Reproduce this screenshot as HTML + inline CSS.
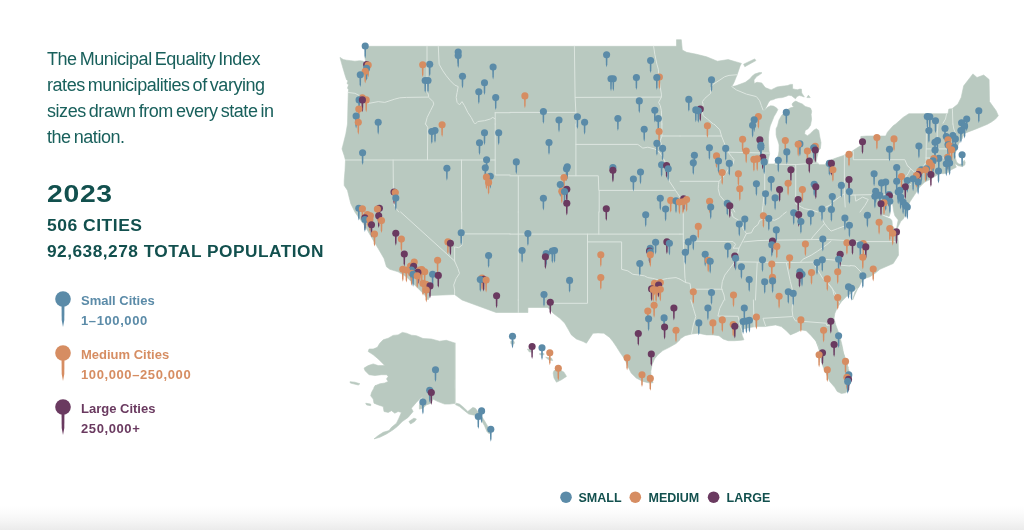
<!DOCTYPE html><html lang="en"><head><meta charset="utf-8"><title>Municipal Equality Index 2023</title><style>
html,body{margin:0;padding:0;background:#fff;}
body{width:1024px;height:530px;position:relative;overflow:hidden;font-family:"Liberation Sans",sans-serif;color:#12504e;}
.grad{position:absolute;left:0;top:506px;width:1024px;height:24px;background:linear-gradient(#ffffff 0%,#fbfbfb 30%,#f5f5f5 62%,#ebebeb 100%);}
.intro{position:absolute;left:47px;top:46.2px;width:300px;font-size:18px;line-height:26px;letter-spacing:-0.45px;word-spacing:-1.5px;color:#19605c;margin:0;}
.year{position:absolute;left:47px;top:179.3px;font-size:24px;font-weight:bold;line-height:30px;margin:0;letter-spacing:0.6px;transform:scaleX(1.18);transform-origin:0 0;}
.stat{position:absolute;left:47px;font-size:16px;font-weight:bold;line-height:20px;margin:0;white-space:nowrap;letter-spacing:0.45px;transform:scaleX(1.095);transform-origin:0 0;}
.leg{position:absolute;left:81px;font-size:13px;font-weight:bold;line-height:19.5px;white-space:nowrap;}
.leg div{margin:0}.leg .n{letter-spacing:0.6px}
.bl{position:absolute;top:491px;font-size:12.5px;font-weight:bold;line-height:15px;white-space:nowrap;color:#12504e;}
svg{position:absolute;left:0;top:0;}
</style></head><body>
<div class="grad"></div>
<p class="intro">The Municipal Equality Index<br>rates municipalities of varying<br>sizes drawn from every state in<br>the nation.</p>
<p class="year">2023</p>
<p class="stat" style="top:216px">506 CITIES</p>
<p class="stat" style="top:242.1px;transform:scaleX(1.08)">92,638,278 TOTAL POPULATION</p>
<div class="leg" style="top:291px;color:#5b8ba8"><div>Small Cities</div><div class="n">1–100,000</div></div>
<div class="leg" style="top:345px;color:#d68d62"><div>Medium Cities</div><div class="n">100,000–250,000</div></div>
<div class="leg" style="top:399px;color:#6a3a60"><div>Large Cities</div><div class="n">250,000+</div></div>
<div class="bl" style="left:578.5px">SMALL</div><div class="bl" style="left:648.5px">MEDIUM</div><div class="bl" style="left:726.5px">LARGE</div>
<svg width="1024" height="530" viewBox="0 0 1024 530">
<path d="M365.7,46.3 L510,46.3 L676.5,46.3 L676.5,39.7 L681.3,39.7 L682.3,50.1 L686.6,52.3 L696.6,54.3 L706.6,56.8 L717.4,61.2 L728.2,59.6 L741.4,63.4 L740.1,65.9 L737.3,74.2 L734,82.5 L731.8,86.6 L735.9,85.8 L740.6,84 L745.3,82.3 L750,78.8 L751.8,76.4 L754.7,74.1 L759.4,72.5 L762,72.8 L759.8,74.6 L756.6,76.6 L754,79.9 L754.2,83.5 L757,82.3 L761.7,82.9 L765.2,87.6 L771.1,89.9 L777,87 L781.5,86.3 L784.5,85.9 L787.6,85.6 L790.5,84.4 L792.6,84.4 L792.6,88.8 L795.2,89.4 L797.6,89.7 L799.9,89.1 L801.4,89.1 L801.7,92.9 L803.4,95.5 L804.3,97 L801.7,96.1 L799.3,95.5 L797,96.4 L795.5,98.7 L793.8,97.6 L791.7,95.8 L788.8,95.2 L785.9,96.4 L782.3,97.6 L778.1,97.9 L775.8,98.4 L773.4,99.6 L770.5,100.3 L768.7,102 L767,105.5 L765.2,109 L763.8,111.3 L767.6,107.2 L770.5,105.8 L773.4,106.1 L776.4,107.8 L777.8,109.6 L776.4,112.5 L774,116.6 L772.6,120.1 L770.2,125.9 L769,131.7 L768.5,137.6 L768.6,143.4 L769,151 L769.6,153.8 L768.3,159.6 L767.9,164 L774.8,164 L777.5,156.7 L778.4,155 L779,150.9 L779.1,145 L778.7,143.4 L777.8,140.5 L776.7,137.6 L776.1,134.6 L776.1,128.8 L777.5,125.9 L779,120 L779.9,118.4 L781.6,115.4 L784.5,112.5 L788.1,109.2 L790,108.1 L794.1,106.7 L792.6,105.8 L792,104 L793.5,102.3 L795.8,101.1 L798.7,102.6 L802.3,104 L805.2,106.4 L810.5,108.1 L811.6,111 L811.6,111.7 L811.1,114.6 L811.6,119.3 L810.5,125.2 L808.1,128.7 L805.2,130.4 L804.6,133.9 L807.5,135.7 L810.5,133.4 L813.4,130.4 L816.3,128.7 L818.7,130.4 L819.8,136.9 L821,142.7 L820.4,148.6 L818.6,150.6 L817,157.2 L816.2,162.2 L819.5,164.7 L824.5,164.7 L829.4,160.5 L836.1,158 L843.5,155.5 L850,153.1 L850,153.1 L854.2,149.7 L860.8,145.6 L860.8,136.5 L866.6,136 L885.7,136 L887.4,132.3 L893.2,125.7 L895.7,124 L895.7,124 L903.1,117.4 L908.9,113.7 L948,113.7 L948.8,109.1 L952.1,108.7 L957.9,104.1 L961.2,97.4 L963.7,85.8 L972.9,73.9 L977,77.5 L983.7,75 L989.1,79.5 L989.5,101.6 L996.1,110.7 L998.3,115.7 L995.5,119.1 L991.4,122 L987.5,124.2 L983.1,126.1 L974.8,129.4 L968.2,131.9 L964,133.7 L962.3,138.6 L959.8,141.7 L958.1,145 L957.3,148.3 L954.8,154.1 L955.6,158.3 L956.5,162 L958.9,164.1 L962.3,164.1 L963.1,161.6 L964.3,160.3 L965.2,162.4 L964.8,164.9 L962.3,166.6 L958.1,165.7 L954.8,163.2 L956.3,167.2 L951.3,169.7 L948,172.5 L943,173.8 L939.7,173 L936.3,175.5 L931.4,178.8 L924.7,182.1 L919.7,187.1 L916.4,192.1 L913.1,197.1 L909.8,202 L908.5,206 L906.5,213.2 L903.2,219.1 L900.7,221.6 L898.2,226.6 L897,228.7 L896.6,228.2 L898.2,219.9 L894.9,215.8 L893.7,211.6 L892.8,205 L892,198 L891,196.5 L890.5,205 L890.3,213.3 L889.1,216.6 L882.4,214.5 L882.4,215.5 L890.7,219.1 L892,220.8 L892.4,225.7 L894.9,229 L897.4,232.4 L898.2,241.3 L898.5,255.2 L893.2,263.5 L879.9,269.3 L874.9,273.4 L869.9,276.8 L864.9,278.4 L861.6,281.7 L859.1,286.7 L855,291.7 L852.5,300 L861.4,280 L858.9,286.6 L853.1,291.6 L846.5,296.6 L841.5,301.6 L837.4,307.4 L834.9,313.2 L834,318.2 L835.7,324.8 L838.2,331.5 L840.7,339.8 L842.3,346.4 L843.5,353.1 L845.7,359.7 L848.2,368 L838.9,340 L841.4,348.3 L843.8,354.9 L846.3,363.2 L848.8,369.9 L850.5,376.5 L849.7,383.2 L848,390.6 L845.5,392.8 L841.4,393.5 L837.2,391.5 L834.7,387.3 L829.7,381.5 L825.6,371.5 L823.1,363.2 L820.6,354.9 L818.9,346.6 L815.6,340 L835.2,386.3 L830.3,381.4 L826.9,374.7 L823.6,368.1 L821.1,361.4 L820.3,354.8 L818.6,348.2 L816.2,341.5 L811.2,335.7 L806.2,330.7 L801.2,329.9 L796.2,332.4 L790.4,334.9 L786.3,330.7 L781.3,326.6 L775.5,324.9 L770.5,325.7 L764.7,326.6 L756.4,326.6 L749.7,327.4 L743.1,329.1 L741.4,331.5 L742.3,335.7 L743.9,339.8 L741.4,340.2 L734.8,340.7 L728.2,340.7 L723.2,339 L719,335.7 L713.2,334.9 L706.6,334.9 L698.3,333.2 L691.6,334 L685,335.7 L680,339 L680,339.8 L676,343.5 L669.4,347.3 L662.8,350.6 L657.8,354.8 L654.5,358.9 L652,364.8 L650.8,371.4 L651.1,378 L653.1,382.7 L649.5,383 L642.8,381.4 L636.2,378 L631.2,373.1 L627.9,366.4 L624.6,358.9 L620.4,353.1 L616.3,346.5 L612.9,341.5 L609.6,337.4 L603.8,333.2 L598,332.9 L593,333.2 L589.7,338.2 L586.4,343.2 L583.1,341.5 L576.4,339 L571.4,334.9 L568.1,329.1 L564.8,323.2 L559.8,318.3 L553.2,313.3 L549.8,309.1 L547.4,307.5 L527.9,307.5 L527.9,312.5 L510,312.5 L510,312.5 L496.1,312.5 L462,300 L462,300 L454.6,294.5 L430.5,295.5 L428,300 L424.7,295 L419.7,290 L413.1,283.4 L406.4,276.8 L398.1,271.8 L389.8,269.3 L386.5,266.8 L384,258.5 L378.2,248.5 L373.2,240.2 L367.4,230.3 L363.2,223.6 L358.3,217 L354.9,212 L354.9,212 L353.3,208.7 L350.8,203.7 L349.1,197.1 L347.5,190.4 L344.2,185.4 L344.2,180.5 L345,170.5 L345.5,160.2 L344.2,155.5 L342,148.9 L343.7,142.3 L345.8,134 L347.5,124 L347.5,124 L348,102.4 L348.3,92.3 L348.6,89.8 L347.5,88.1 L348.6,84.8 L347,83.5 L348,80.7 L346.6,79.8 L345,74.9 L342.5,66.6 L340,57.4 L343.3,59.6 L346.6,60.2 L350.8,60.7 L354.9,61.2 L359.9,60.7 L363.2,61.2 L364.1,61.9 L363.4,68.2 L362.2,73.2 L361.3,77.5 L362.6,77.8 L363.6,73.2 L364.9,67.9 L365.6,61.6 L364.9,57.6Z" fill="#b9c9c0" stroke="#b9c9c0" stroke-width="0.6" stroke-linejoin="round"/>
<path d="M455.4,343.2 L446.3,340.3 L439.6,341.2 L431.3,339 L423,338.5 L416.4,335.7 L411.4,335.2 L406.4,333.2 L402.3,332.4 L398.1,334.9 L393.1,335.4 L388.2,338.2 L383.2,339.8 L379.8,343.2 L377.4,347.3 L373.2,349 L369.1,349 L368.2,351.5 L373.2,354.8 L378.2,358.9 L383.2,363.9 L384.8,365.6 L378.2,365.6 L373.2,363.9 L368.2,365.6 L364.1,368.1 L364.9,370.6 L369.1,374.7 L374.9,375.5 L381.5,374.7 L386.5,374.7 L388.2,376.4 L386.5,378.9 L388.2,381.4 L384.8,383 L379.8,383.8 L375.7,385.5 L374,388 L375.7,385 L371.5,392.5 L370.7,395.8 L373.2,399.1 L374,403.2 L378.2,404.9 L383.2,406.6 L384,411.5 L388.2,412.4 L391.5,410.7 L394.8,413.2 L398.1,411.5 L401.4,412.4 L398.9,418.2 L396.5,423.2 L391.5,427.3 L389,430.6 L383.2,432.3 L378.2,435.6 L374,438.9 L379.8,437.3 L386.5,434 L393.1,429.8 L397.3,426.5 L402.3,421.5 L408.1,417.4 L413.1,411.5 L411.4,408.2 L416.4,402.4 L419.7,399.1 L423,396.6 L420.7,400.8 L419.4,404.9 L419.4,409.1 L423,408.2 L426.3,404.9 L431.3,403.2 L433,399.1 L438,401.6 L444.6,404.1 L449.6,404.1 L456.2,403.2 L459.5,404.1 L463.7,407.4 L467.8,411.5 L472.8,407.4 L475.3,408.2 L477.8,411.5 L481.1,415.7 L484.5,420.7 L487.8,426.5 L490.3,431.5 L489.4,434 L486.9,431.5 L484.5,425.7 L481.1,419.8 L477.8,415.7 L472.8,414.9 L468.7,414 L464.5,410.7 L459.5,406.6 L455.4,404.6Z" fill="#b9c9c0" stroke="#b9c9c0" stroke-width="0.6" stroke-linejoin="round"/>
<path d="M806.9,97.6 L808.4,95.2 L810.2,97.6Z" fill="#b9c9c0" stroke="#b9c9c0" stroke-width="0.6" stroke-linejoin="round"/>
<path d="M350,381.7 L354.9,382.2 L359.9,383.8 L358.3,385 L353.3,383.8 L350.3,383Z" fill="#b9c9c0" stroke="#b9c9c0" stroke-width="0.6" stroke-linejoin="round"/>
<path d="M408.9,421.5 L413.9,418.2 L416.4,419 L414.7,421.5 L410.6,424Z" fill="#b9c9c0" stroke="#b9c9c0" stroke-width="0.6" stroke-linejoin="round"/>
<path d="M365.7,403.2 L370.7,404.1 L370.7,405.7 L366.6,404.9Z" fill="#b9c9c0" stroke="#b9c9c0" stroke-width="0.6" stroke-linejoin="round"/>
<path d="M743.6,64.2 L754.7,58.9 L755.9,60.6 L744.8,66.7Z" fill="#b9c9c0" stroke="#b9c9c0" stroke-width="0.6" stroke-linejoin="round"/>
<path d="M510.8,341.2 L513.7,340.7 L514.5,343.2 L512.5,344.8 L510.8,343.5Z" fill="#b9c9c0" stroke="#b9c9c0" stroke-width="0.6" stroke-linejoin="round"/>
<path d="M527.4,349 L531.6,349.8 L532.7,352.3 L529.1,351.8Z" fill="#b9c9c0" stroke="#b9c9c0" stroke-width="0.6" stroke-linejoin="round"/>
<path d="M539.6,353.5 L544,353.6 L544,354.8 L539.9,354.8Z" fill="#b9c9c0" stroke="#b9c9c0" stroke-width="0.6" stroke-linejoin="round"/>
<path d="M545.7,357.3 L551.5,358.1 L552.7,360.6 L549,360.1Z" fill="#b9c9c0" stroke="#b9c9c0" stroke-width="0.6" stroke-linejoin="round"/>
<path d="M554,370.6 L559.8,369.7 L564,372.2 L566.5,376.4 L561.5,379.7 L556.5,382.2 L554,378 L553.2,373.1Z" fill="#b9c9c0" stroke="#b9c9c0" stroke-width="0.6" stroke-linejoin="round"/>
<path d="M427,46.3 L427,92.5 L428,93.3 L428.8,97.4 L433,101.6 L433.8,104.1 L430.5,110.7 L427.2,117.4 L425.5,124M438.3,46.3 L439.1,64.2 L442.9,70.9 L446.3,75.8 L450.4,80.8 L454.6,85 L458.2,86.6 L457.1,92.5 L456.2,97.4 L457.1,102.4 L459.5,104.9 L462,101.6 L464.5,105.7 L467.8,112.4 L471.2,117.4 L473.7,122.3 L475.3,124 L477.8,121.5 L484.5,120.7 L490.3,119 L492.8,117.4 L495.2,119M348.3,92.5 L354.9,93.3 L359.9,95.8 L364.9,102.4 L369.9,103.2 L378.2,101.6 L384.8,102.4 L394.8,99.1 L399.8,97.8 L406.4,97.4 L428,97.1M574.4,46.3 L575.1,97.4 L575.9,112.4 L576.4,124M575.3,97.4 L661.1,97.1M495.2,112.7 L510,112.7M510,112.4 L575.9,112.4M653.6,46.3 L654.8,54.3 L656.9,64.2 L658.3,69.2 L659.1,79.2 L660.3,87.5 L661.4,94.1 L661.4,97.1 L658.6,102.4 L660.3,105.7 L661.4,110.7 L661.9,124M737.3,74.7 L729,75.4 L724.8,76.7 L719.8,80 L713.2,84.2 L710.7,87.5 L710.7,93.3 L704.9,98.3 L702.4,101.6 L703.2,104.9 L701.6,109.1 L703.2,115.7 L707.4,119 L713.2,124M731.8,86.6 L736.5,90 L746.4,94.1 L756.4,96.6 L759.7,100.8 L761.4,105.7 L763,109.9M946.6,113.7 L945.5,119 L943,123.2M952.4,109.1 L952.9,124M425.5,124 L427.7,127.3 L427.5,159.7M345.5,160 L495.2,160M393.1,160 L393.5,203.7 L397.3,210.3 L398.9,212M461.5,160 L461.5,212M495.2,112.7 L495.2,124M495.2,124 L495.2,175 L510,175M575.9,124 L575.9,175.8M575.9,144.4 L637.8,144.4 L642.8,148.1 L647.8,147.2 L654.5,148.9 L659.4,152.2 L662.8,157.2 L665.2,162.2 L667.7,173.8 L669.4,181.3 L674.4,188.8 L677.7,193.7 L680,197.1M661.9,124 L661.9,136 L680,136M661.9,136 L660.3,140.6 L661.9,147.2 L662.8,153.1M510,175.8 L598.3,175.8 L598.8,190.4 L674.4,190.4M518.3,175.8 L518.3,212M599.2,190.4 L599.2,212M680,136 L721.5,136M714,124 L719.8,129.8 L721.5,136 L724,142.3 L728.2,152.2 L731.5,156.4 L734,159.7 L733.1,163.8 L729.8,167.2 L726.5,172.2 L723.2,177.1 L719,181.3 L718.5,184.6 L718.2,188.8 L719.8,195.4 L724,200.4 L728.2,205.4 L733.1,208.7 L734.8,212M728.2,152.2 L769.7,153.1M680,181.3 L719,181.3M764.7,163.8 L764.7,190.4 L763.8,197.1 L763,205.4 L762.2,212M795.7,164.7 L795.7,203.7 L801.2,207 L804.5,208.7 L812.8,210.3 L817.8,212M775.1,164.2 L796.2,164.5 L817.8,163M844.4,154.7 L844.4,193.7 L839.4,197.1 L832.8,202 L829.4,205.4 L824.5,207.8 L821.1,212M853.3,151.4 L853.3,159.7 L904.8,159.7 L907.3,165.5 L910.6,168.8 L908.1,173.8 L905.6,177.1 L907.3,181.3 L910.6,184.6M844.4,193.7 L845.2,207M850,195.1 L898.2,194.1M855,195.1 L855.8,201.2 L862.5,197.1 L868.3,199.5 L864.9,205.4 L860,212M926.7,124 L926.4,134 L926,162.2 L923.1,167.2 L914.8,172.2M907.3,165.5 L914.8,172.5M926.4,148.9 L946.3,148.9M925.9,158 L944.6,158M938,124 L937.2,134 L938,148.9M952.9,124 L953.8,129 L956.3,135.6M944.6,158 L945,167.2M946.3,148.9 L952.9,148.9 L954.6,145.6M400.6,212 L454.6,261 L457.9,268.5 L459.5,273.4 L456.2,278.4 L453.7,285.1 L454.6,290 L454.6,294.5M461.7,212 L461.7,233.9 L462,245.2 L458.7,247.7 L454.6,246.9 L454.6,261M461.7,233.9 L510,233.9M510,234.1 L680,234.1M518.3,212 L518.3,300M598.8,212 L598.8,234.1M587.5,234.1 L587.5,300M587.5,241.9 L621.6,241.9 L621.6,269.3 L627.9,270.9 L632.9,274.3 L639.5,275.1 L644.5,275.9 L647.8,277.6 L652.8,278.4 L659.4,280.1 L667.7,278.4 L676,277.6 L680,279.2M680,234.1 L683.3,234.1M683.3,241.1 L733.1,241.6 L735.6,244.4 L733.1,248.2 L738.9,248.2M731.5,212 L733.1,217 L741.4,222 L743.1,228.6 L746.4,233.6 L743.9,238.6 L741.4,243.5 L738.9,248.2 L737.3,255.2 L734.8,261.8 L729.8,268.5 L724.8,275.1 L722.3,281.7 L721.5,288.4 L724,295 L724.8,300M683.3,212 L683.3,241.1 L684.2,261.8 L685,278.4 L685.8,282.6 L690,283.4 L690.8,289.2 L722.3,289.2M680,279.2 L685.8,282.6M743.9,241.9 L758,240.6 L769.7,240.2 L796.2,239.9 L824.5,239.4 L850,240.6M736.5,261.8 L786.3,262.6 L812.8,262.1 L817.8,260.2 L824.5,259.3 L836.1,260.2 L839.4,265.1 L850,266M757.2,262.6 L755.5,300M786.3,262.6 L790.4,281.7 L792.9,291.7 L792.9,300M831.1,241.1 L826.1,245.2 L817.8,251 L811.2,255.2 L802.9,259.3 L800.4,262.3M812.8,262.6 L817.8,270.1 L822.8,278.4 L829.4,285.1 L834.4,291.7 L837.7,296.7 L839.4,300M746.4,233.6 L751.4,232.8 L753.9,227.8 L758,224.5 L759.7,220.3 L766.3,218.6 L774.6,220.3 L779.6,217.8 L782.9,214.5 L786.3,212M811.2,239.4 L812.8,236.9 L824.5,223.6 L827.8,227.8 L831.1,231.1 L837.7,228.6 L844.4,226.1 L850,222M824.5,223.6 L821.1,217 L822.8,212M850,241.6 L897.3,241.6M850,265.5 L855,266 L861.6,272.6M518.3,300 L518.3,312.5M551.5,303.3 L587.5,303.3 L587.5,300M690.8,300 L693.3,308.3 L695.8,316.6 L693.3,324.9 L691.6,334M724,300 L719.8,308.3 L717.9,316.1 L738.1,316.3 L739.8,324.9 L742.3,331.5M753.4,300 L753.9,318.3 L754.2,326.6M765.5,325.7 L763,318.3 L792.1,316.6M792.9,300 L792.1,310 L792.9,316.6 L795.4,320.8 L826.1,323.2 L826.9,325.7 L829.4,324.9 L834.4,320.8M828.2,283.3 L832.4,288.3 L834,294.9 L837.4,298.3 L839.8,303.2M455.4,343.2 L455.4,388M455.4,380 L455.4,404.1" fill="none" stroke="#dde6e0" stroke-width="1" stroke-linejoin="round" stroke-linecap="round"/>
<g fill="#5b8ba8"><circle cx="63" cy="299" r="7.8"/><path d="M61.5,299 L64.5,299 L64.3,320 L63,327 L61.7,320Z"/></g>
<g fill="#d68d62"><circle cx="63" cy="353" r="7.8"/><path d="M61.5,353 L64.5,353 L64.3,374 L63,381 L61.7,374Z"/></g>
<g fill="#6a3a60"><circle cx="63" cy="407" r="7.8"/><path d="M61.5,407 L64.5,407 L64.3,428 L63,435 L61.7,428Z"/></g>
<circle cx="566" cy="497.2" r="5.8" fill="#5b8ba8"/>
<circle cx="635.3" cy="497.2" r="5.8" fill="#d68d62"/>
<circle cx="713.6" cy="497.2" r="5.8" fill="#6a3a60"/>
<g fill="#5b8ba8"><path d="M364.3,46 L366.1,46 L365.9,55.8 L365.2,58.4 L364.5,55.8Z"/><circle cx="365.2" cy="46" r="3.56"/></g>
<g fill="#5b8ba8"><path d="M457.3,52.1 L459.1,52.1 L458.9,61.9 L458.2,64.5 L457.5,61.9Z"/><circle cx="458.2" cy="52.1" r="3.56"/></g>
<g fill="#5b8ba8"><path d="M605.7,54.8 L607.5,54.8 L607.3,64.6 L606.6,67.2 L605.9,64.6Z"/><circle cx="606.6" cy="54.8" r="3.56"/></g>
<g fill="#5b8ba8"><path d="M457.3,55.6 L459.1,55.6 L458.9,65.4 L458.2,68 L457.5,65.4Z"/><circle cx="458.2" cy="55.6" r="3.56"/></g>
<g fill="#5b8ba8"><path d="M649.7,60.6 L651.5,60.6 L651.3,70.4 L650.6,73 L649.9,70.4Z"/><circle cx="650.6" cy="60.6" r="3.56"/></g>
<g fill="#5b8ba8"><path d="M428.8,64.2 L430.6,64.2 L430.4,74 L429.7,76.6 L429,74Z"/><circle cx="429.7" cy="64.2" r="3.56"/></g>
<g fill="#6a3a60"><path d="M365.7,64.6 L367.5,64.6 L367.3,74.4 L366.6,77 L365.9,74.4Z"/><circle cx="366.6" cy="64.6" r="3.56"/></g>
<g fill="#d68d62"><path d="M421.8,64.7 L423.6,64.7 L423.4,74.5 L422.7,77.1 L422,74.5Z"/><circle cx="422.7" cy="64.7" r="3.56"/></g>
<g fill="#d68d62"><path d="M367.3,65.1 L369.1,65.1 L368.9,74.9 L368.2,77.5 L367.5,74.9Z"/><circle cx="368.2" cy="65.1" r="3.56"/></g>
<g fill="#5b8ba8"><path d="M492.2,67 L494,67 L493.8,76.8 L493.1,79.4 L492.4,76.8Z"/><circle cx="493.1" cy="67" r="3.56"/></g>
<g fill="#5b8ba8"><path d="M365.7,68.4 L367.5,68.4 L367.3,78.2 L366.6,80.8 L365.9,78.2Z"/><circle cx="366.6" cy="68.4" r="3.56"/></g>
<g fill="#d68d62"><path d="M364.3,71.2 L366.1,71.2 L365.9,81 L365.2,83.6 L364.5,81Z"/><circle cx="365.2" cy="71.2" r="3.56"/></g>
<g fill="#5b8ba8"><path d="M359.4,74.7 L361.2,74.7 L361,84.5 L360.3,87.1 L359.6,84.5Z"/><circle cx="360.3" cy="74.7" r="3.56"/></g>
<g fill="#5b8ba8"><path d="M461.6,76.2 L463.4,76.2 L463.2,86 L462.5,88.6 L461.8,86Z"/><circle cx="462.5" cy="76.2" r="3.56"/></g>
<g fill="#d68d62"><path d="M658.5,77 L660.3,77 L660.1,86.8 L659.4,89.4 L658.7,86.8Z"/><circle cx="659.4" cy="77" r="3.56"/></g>
<g fill="#5b8ba8"><path d="M635.5,77.5 L637.3,77.5 L637.1,87.3 L636.4,89.9 L635.7,87.3Z"/><circle cx="636.4" cy="77.5" r="3.56"/></g>
<g fill="#5b8ba8"><path d="M655.9,77.5 L657.7,77.5 L657.5,87.3 L656.8,89.9 L656.1,87.3Z"/><circle cx="656.8" cy="77.5" r="3.56"/></g>
<g fill="#5b8ba8"><path d="M610.1,78.8 L611.9,78.8 L611.7,88.6 L611,91.2 L610.3,88.6Z"/><circle cx="611" cy="78.8" r="3.56"/></g>
<g fill="#5b8ba8"><path d="M612.4,78.8 L614.2,78.8 L614,88.6 L613.3,91.2 L612.6,88.6Z"/><circle cx="613.3" cy="78.8" r="3.56"/></g>
<g fill="#5b8ba8"><path d="M710.6,79.7 L712.4,79.7 L712.2,89.5 L711.5,92.1 L710.8,89.5Z"/><circle cx="711.5" cy="79.7" r="3.56"/></g>
<g fill="#5b8ba8"><path d="M424.3,80.5 L426.1,80.5 L425.9,90.3 L425.2,92.9 L424.5,90.3Z"/><circle cx="425.2" cy="80.5" r="3.56"/></g>
<g fill="#5b8ba8"><path d="M427.1,80.5 L428.9,80.5 L428.7,90.3 L428,92.9 L427.3,90.3Z"/><circle cx="428" cy="80.5" r="3.56"/></g>
<g fill="#5b8ba8"><path d="M483.6,82.7 L485.4,82.7 L485.2,92.5 L484.5,95.1 L483.8,92.5Z"/><circle cx="484.5" cy="82.7" r="3.56"/></g>
<g fill="#5b8ba8"><path d="M477.9,91.8 L479.7,91.8 L479.5,101.6 L478.8,104.2 L478.1,101.6Z"/><circle cx="478.8" cy="91.8" r="3.56"/></g>
<g fill="#d68d62"><path d="M524,95.9 L525.8,95.9 L525.6,105.7 L524.9,108.3 L524.2,105.7Z"/><circle cx="524.9" cy="95.9" r="3.56"/></g>
<g fill="#5b8ba8"><path d="M494.8,97.6 L496.6,97.6 L496.4,107.4 L495.7,110 L495,107.4Z"/><circle cx="495.7" cy="97.6" r="3.56"/></g>
<g fill="#d68d62"><path d="M361.5,97.8 L363.3,97.8 L363.1,107.6 L362.4,110.2 L361.7,107.6Z"/><circle cx="362.4" cy="97.8" r="3.56"/></g>
<g fill="#5b8ba8"><path d="M687.9,99.4 L689.7,99.4 L689.5,109.2 L688.8,111.8 L688.1,109.2Z"/><circle cx="688.8" cy="99.4" r="3.56"/></g>
<g fill="#5b8ba8"><path d="M358.2,99.9 L360,99.9 L359.8,109.7 L359.1,112.3 L358.4,109.7Z"/><circle cx="359.1" cy="99.9" r="3.56"/></g>
<g fill="#d68d62"><path d="M365.3,99.9 L367.1,99.9 L366.9,109.7 L366.2,112.3 L365.5,109.7Z"/><circle cx="366.2" cy="99.9" r="3.56"/></g>
<g fill="#6a3a60"><path d="M361.5,99.9 L363.3,99.9 L363.1,109.7 L362.4,112.3 L361.7,109.7Z"/><circle cx="362.4" cy="99.9" r="3.56"/></g>
<g fill="#5b8ba8"><path d="M638.4,100.9 L640.2,100.9 L640,110.7 L639.3,113.3 L638.6,110.7Z"/><circle cx="639.3" cy="100.9" r="3.56"/></g>
<g fill="#d68d62"><path d="M357.9,109.1 L359.7,109.1 L359.5,118.9 L358.8,121.5 L358.1,118.9Z"/><circle cx="358.8" cy="109.1" r="3.56"/></g>
<g fill="#6a3a60"><path d="M699.4,109.1 L701.2,109.1 L701,118.9 L700.3,121.5 L699.6,118.9Z"/><circle cx="700.3" cy="109.1" r="3.56"/></g>
<g fill="#5b8ba8"><path d="M694.9,109.9 L696.7,109.9 L696.5,119.7 L695.8,122.3 L695.1,119.7Z"/><circle cx="695.8" cy="109.9" r="3.56"/></g>
<g fill="#5b8ba8"><path d="M653.9,110.2 L655.7,110.2 L655.5,120 L654.8,122.6 L654.1,120Z"/><circle cx="654.8" cy="110.2" r="3.56"/></g>
<g fill="#5b8ba8"><path d="M697.4,110.7 L699.2,110.7 L699,120.5 L698.3,123.1 L697.6,120.5Z"/><circle cx="698.3" cy="110.7" r="3.56"/></g>
<g fill="#5b8ba8"><path d="M977.9,110.7 L979.7,110.7 L979.5,120.5 L978.8,123.1 L978.1,120.5Z"/><circle cx="978.8" cy="110.7" r="3.56"/></g>
<g fill="#5b8ba8"><path d="M542.5,111.5 L544.3,111.5 L544.1,121.3 L543.4,123.9 L542.7,121.3Z"/><circle cx="543.4" cy="111.5" r="3.56"/></g>
<g fill="#5b8ba8"><path d="M785.4,112.4 L787.2,112.4 L787,122.2 L786.3,124.8 L785.6,122.2Z"/><circle cx="786.3" cy="112.4" r="3.56"/></g>
<g fill="#5b8ba8"><path d="M355.2,116 L357,116 L356.8,125.8 L356.1,128.4 L355.4,125.8Z"/><circle cx="356.1" cy="116" r="3.56"/></g>
<g fill="#d68d62"><path d="M757.5,116.5 L759.3,116.5 L759.1,126.3 L758.4,128.9 L757.7,126.3Z"/><circle cx="758.4" cy="116.5" r="3.56"/></g>
<g fill="#5b8ba8"><path d="M926.4,116.6 L928.2,116.6 L928,126.4 L927.3,129 L926.6,126.4Z"/><circle cx="927.3" cy="116.6" r="3.56"/></g>
<g fill="#5b8ba8"><path d="M576.5,116.7 L578.3,116.7 L578.1,126.5 L577.4,129.1 L576.7,126.5Z"/><circle cx="577.4" cy="116.7" r="3.56"/></g>
<g fill="#5b8ba8"><path d="M928.9,116.7 L930.7,116.7 L930.5,126.5 L929.8,129.1 L929.1,126.5Z"/><circle cx="929.8" cy="116.7" r="3.56"/></g>
<g fill="#5b8ba8"><path d="M657.4,118.5 L659.2,118.5 L659,128.3 L658.3,130.9 L657.6,128.3Z"/><circle cx="658.3" cy="118.5" r="3.56"/></g>
<g fill="#5b8ba8"><path d="M617,118.5 L618.8,118.5 L618.6,128.3 L617.9,130.9 L617.2,128.3Z"/><circle cx="617.9" cy="118.5" r="3.56"/></g>
<g fill="#5b8ba8"><path d="M965.8,119 L967.6,119 L967.4,128.8 L966.7,131.4 L966,128.8Z"/><circle cx="966.7" cy="119" r="3.56"/></g>
<g fill="#5b8ba8"><path d="M753.3,119.8 L755.1,119.8 L754.9,129.6 L754.2,132.2 L753.5,129.6Z"/><circle cx="754.2" cy="119.8" r="3.56"/></g>
<g fill="#5b8ba8"><path d="M558.1,120 L559.9,120 L559.7,129.8 L559,132.4 L558.3,129.8Z"/><circle cx="559" cy="120" r="3.56"/></g>
<g fill="#5b8ba8"><path d="M934.6,120.8 L936.4,120.8 L936.2,130.6 L935.5,133.2 L934.8,130.6Z"/><circle cx="935.5" cy="120.8" r="3.56"/></g>
<g fill="#5b8ba8"><path d="M377.3,122.3 L379.1,122.3 L378.9,132.1 L378.2,134.7 L377.5,132.1Z"/><circle cx="378.2" cy="122.3" r="3.56"/></g>
<g fill="#d68d62"><path d="M357.4,122.3 L359.2,122.3 L359,132.1 L358.3,134.7 L357.6,132.1Z"/><circle cx="358.3" cy="122.3" r="3.56"/></g>
<g fill="#5b8ba8"><path d="M583.7,122.3 L585.5,122.3 L585.3,132.1 L584.6,134.7 L583.9,132.1Z"/><circle cx="584.6" cy="122.3" r="3.56"/></g>
<g fill="#5b8ba8"><path d="M960.7,122.7 L962.5,122.7 L962.3,132.5 L961.6,135.1 L960.9,132.5Z"/><circle cx="961.6" cy="122.7" r="3.56"/></g>
<g fill="#d68d62"><path d="M441.2,124.7 L443,124.7 L442.8,134.5 L442.1,137.1 L441.4,134.5Z"/><circle cx="442.1" cy="124.7" r="3.56"/></g>
<g fill="#5b8ba8"><path d="M751.7,125.3 L753.5,125.3 L753.3,135.1 L752.6,137.7 L751.9,135.1Z"/><circle cx="752.6" cy="125.3" r="3.56"/></g>
<g fill="#d68d62"><path d="M706.5,125.7 L708.3,125.7 L708.1,135.5 L707.4,138.1 L706.7,135.5Z"/><circle cx="707.4" cy="125.7" r="3.56"/></g>
<g fill="#5b8ba8"><path d="M963.7,126 L965.5,126 L965.3,135.8 L964.6,138.4 L963.9,135.8Z"/><circle cx="964.6" cy="126" r="3.56"/></g>
<g fill="#5b8ba8"><path d="M944.1,128.5 L945.9,128.5 L945.7,138.3 L945,140.9 L944.3,138.3Z"/><circle cx="945" cy="128.5" r="3.56"/></g>
<g fill="#5b8ba8"><path d="M643.3,129.3 L645.1,129.3 L644.9,139.1 L644.2,141.7 L643.5,139.1Z"/><circle cx="644.2" cy="129.3" r="3.56"/></g>
<g fill="#5b8ba8"><path d="M434.1,130.6 L435.9,130.6 L435.7,140.4 L435,143 L434.3,140.4Z"/><circle cx="435" cy="130.6" r="3.56"/></g>
<g fill="#5b8ba8"><path d="M928,130.6 L929.8,130.6 L929.6,140.4 L928.9,143 L928.2,140.4Z"/><circle cx="928.9" cy="130.6" r="3.56"/></g>
<g fill="#5b8ba8"><path d="M960,130.6 L961.8,130.6 L961.6,140.4 L960.9,143 L960.2,140.4Z"/><circle cx="960.9" cy="130.6" r="3.56"/></g>
<g fill="#d68d62"><path d="M658.2,131.5 L660,131.5 L659.8,141.3 L659.1,143.9 L658.4,141.3Z"/><circle cx="659.1" cy="131.5" r="3.56"/></g>
<g fill="#5b8ba8"><path d="M430.9,131.6 L432.7,131.6 L432.5,141.4 L431.8,144 L431.1,141.4Z"/><circle cx="431.8" cy="131.6" r="3.56"/></g>
<g fill="#5b8ba8"><path d="M483.6,132.8 L485.4,132.8 L485.2,142.6 L484.5,145.2 L483.8,142.6Z"/><circle cx="484.5" cy="132.8" r="3.56"/></g>
<g fill="#5b8ba8"><path d="M497.8,132.8 L499.6,132.8 L499.4,142.6 L498.7,145.2 L498,142.6Z"/><circle cx="498.7" cy="132.8" r="3.56"/></g>
<g fill="#5b8ba8"><path d="M952,135.6 L953.8,135.6 L953.6,145.4 L952.9,148 L952.2,145.4Z"/><circle cx="952.9" cy="135.6" r="3.56"/></g>
<g fill="#5b8ba8"><path d="M945.4,136.5 L947.2,136.5 L947,146.3 L946.3,148.9 L945.6,146.3Z"/><circle cx="946.3" cy="136.5" r="3.56"/></g>
<g fill="#d68d62"><path d="M876,137.6 L877.8,137.6 L877.6,147.4 L876.9,150 L876.2,147.4Z"/><circle cx="876.9" cy="137.6" r="3.56"/></g>
<g fill="#5b8ba8"><path d="M954.5,138.9 L956.3,138.9 L956.1,148.7 L955.4,151.3 L954.7,148.7Z"/><circle cx="955.4" cy="138.9" r="3.56"/></g>
<g fill="#d68d62"><path d="M893.1,138.9 L894.9,138.9 L894.7,148.7 L894,151.3 L893.3,148.7Z"/><circle cx="894" cy="138.9" r="3.56"/></g>
<g fill="#d68d62"><path d="M741.7,139.3 L743.5,139.3 L743.3,149.1 L742.6,151.7 L741.9,149.1Z"/><circle cx="742.6" cy="139.3" r="3.56"/></g>
<g fill="#6a3a60"><path d="M759,139.8 L760.8,139.8 L760.6,149.6 L759.9,152.2 L759.2,149.6Z"/><circle cx="759.9" cy="139.8" r="3.56"/></g>
<g fill="#d68d62"><path d="M947.1,139.8 L948.9,139.8 L948.7,149.6 L948,152.2 L947.3,149.6Z"/><circle cx="948" cy="139.8" r="3.56"/></g>
<g fill="#d68d62"><path d="M784.4,140.6 L786.2,140.6 L786,150.4 L785.3,153 L784.6,150.4Z"/><circle cx="785.3" cy="140.6" r="3.56"/></g>
<g fill="#5b8ba8"><path d="M936.6,140.6 L938.4,140.6 L938.2,150.4 L937.5,153 L936.8,150.4Z"/><circle cx="937.5" cy="140.6" r="3.56"/></g>
<g fill="#6a3a60"><path d="M861.6,141.8 L863.4,141.8 L863.2,151.6 L862.5,154.2 L861.8,151.6Z"/><circle cx="862.5" cy="141.8" r="3.56"/></g>
<g fill="#5b8ba8"><path d="M934.1,142.3 L935.9,142.3 L935.7,152.1 L935,154.7 L934.3,152.1Z"/><circle cx="935" cy="142.3" r="3.56"/></g>
<g fill="#5b8ba8"><path d="M548.1,142.6 L549.9,142.6 L549.7,152.4 L549,155 L548.3,152.4Z"/><circle cx="549" cy="142.6" r="3.56"/></g>
<g fill="#5b8ba8"><path d="M478.6,142.8 L480.4,142.8 L480.2,152.6 L479.5,155.2 L478.8,152.6Z"/><circle cx="479.5" cy="142.8" r="3.56"/></g>
<g fill="#5b8ba8"><path d="M656,143.4 L657.8,143.4 L657.6,153.2 L656.9,155.8 L656.2,153.2Z"/><circle cx="656.9" cy="143.4" r="3.56"/></g>
<g fill="#5b8ba8"><path d="M799,143.9 L800.8,143.9 L800.6,153.7 L799.9,156.3 L799.2,153.7Z"/><circle cx="799.9" cy="143.9" r="3.56"/></g>
<g fill="#d68d62"><path d="M797.3,144.3 L799.1,144.3 L798.9,154.1 L798.2,156.7 L797.5,154.1Z"/><circle cx="798.2" cy="144.3" r="3.56"/></g>
<g fill="#5b8ba8"><path d="M947.1,144.8 L948.9,144.8 L948.7,154.6 L948,157.2 L947.3,154.6Z"/><circle cx="948" cy="144.8" r="3.56"/></g>
<g fill="#5b8ba8"><path d="M760,145.3 L761.8,145.3 L761.6,155.1 L760.9,157.7 L760.2,155.1Z"/><circle cx="760.9" cy="145.3" r="3.56"/></g>
<g fill="#d68d62"><path d="M948.4,145.6 L950.2,145.6 L950,155.4 L949.3,158 L948.6,155.4Z"/><circle cx="949.3" cy="145.6" r="3.56"/></g>
<g fill="#5b8ba8"><path d="M918,146.1 L919.8,146.1 L919.6,155.9 L918.9,158.5 L918.2,155.9Z"/><circle cx="918.9" cy="146.1" r="3.56"/></g>
<g fill="#d68d62"><path d="M814.4,146.4 L816.2,146.4 L816,156.2 L815.3,158.8 L814.6,156.2Z"/><circle cx="815.3" cy="146.4" r="3.56"/></g>
<g fill="#5b8ba8"><path d="M760,147.2 L761.8,147.2 L761.6,157 L760.9,159.6 L760.2,157Z"/><circle cx="760.9" cy="147.2" r="3.56"/></g>
<g fill="#5b8ba8"><path d="M953.7,147.2 L955.5,147.2 L955.3,157 L954.6,159.6 L953.9,157Z"/><circle cx="954.6" cy="147.2" r="3.56"/></g>
<g fill="#5b8ba8"><path d="M708.5,147.7 L710.3,147.7 L710.1,157.5 L709.4,160.1 L708.7,157.5Z"/><circle cx="709.4" cy="147.7" r="3.56"/></g>
<g fill="#5b8ba8"><path d="M812.8,147.7 L814.6,147.7 L814.4,157.5 L813.7,160.1 L813,157.5Z"/><circle cx="813.7" cy="147.7" r="3.56"/></g>
<g fill="#5b8ba8"><path d="M661.7,148.4 L663.5,148.4 L663.3,158.2 L662.6,160.8 L661.9,158.2Z"/><circle cx="662.6" cy="148.4" r="3.56"/></g>
<g fill="#5b8ba8"><path d="M724.8,148.4 L726.6,148.4 L726.4,158.2 L725.7,160.8 L725,158.2Z"/><circle cx="725.7" cy="148.4" r="3.56"/></g>
<g fill="#5b8ba8"><path d="M888.6,149.2 L890.4,149.2 L890.2,159 L889.5,161.6 L888.8,159Z"/><circle cx="889.5" cy="149.2" r="3.56"/></g>
<g fill="#d68d62"><path d="M950.7,149.7 L952.5,149.7 L952.3,159.5 L951.6,162.1 L950.9,159.5Z"/><circle cx="951.6" cy="149.7" r="3.56"/></g>
<g fill="#6a3a60"><path d="M814.4,150.1 L816.2,150.1 L816,159.9 L815.3,162.5 L814.6,159.9Z"/><circle cx="815.3" cy="150.1" r="3.56"/></g>
<g fill="#5b8ba8"><path d="M934.1,150.1 L935.9,150.1 L935.7,159.9 L935,162.5 L934.3,159.9Z"/><circle cx="935" cy="150.1" r="3.56"/></g>
<g fill="#d68d62"><path d="M745.3,151.1 L747.1,151.1 L746.9,160.9 L746.2,163.5 L745.5,160.9Z"/><circle cx="746.2" cy="151.1" r="3.56"/></g>
<g fill="#d68d62"><path d="M806.5,151.1 L808.3,151.1 L808.1,160.9 L807.4,163.5 L806.7,160.9Z"/><circle cx="807.4" cy="151.1" r="3.56"/></g>
<g fill="#5b8ba8"><path d="M785.9,151.9 L787.7,151.9 L787.5,161.7 L786.8,164.3 L786.1,161.7Z"/><circle cx="786.8" cy="151.9" r="3.56"/></g>
<g fill="#5b8ba8"><path d="M361.7,152.7 L363.5,152.7 L363.3,162.5 L362.6,165.1 L361.9,162.5Z"/><circle cx="362.6" cy="152.7" r="3.56"/></g>
<g fill="#d68d62"><path d="M848.1,154.4 L849.9,154.4 L849.7,164.2 L849,166.8 L848.3,164.2Z"/><circle cx="849" cy="154.4" r="3.56"/></g>
<g fill="#5b8ba8"><path d="M961.2,154.7 L963,154.7 L962.8,164.5 L962.1,167.1 L961.4,164.5Z"/><circle cx="962.1" cy="154.7" r="3.56"/></g>
<g fill="#5b8ba8"><path d="M693.5,155.2 L695.3,155.2 L695.1,165 L694.4,167.6 L693.7,165Z"/><circle cx="694.4" cy="155.2" r="3.56"/></g>
<g fill="#d68d62"><path d="M715.6,155.9 L717.4,155.9 L717.2,165.7 L716.5,168.3 L715.8,165.7Z"/><circle cx="716.5" cy="155.9" r="3.56"/></g>
<g fill="#6a3a60"><path d="M761.8,157.2 L763.6,157.2 L763.4,167 L762.7,169.6 L762,167Z"/><circle cx="762.7" cy="157.2" r="3.56"/></g>
<g fill="#d68d62"><path d="M946.7,157.2 L948.5,157.2 L948.3,167 L947.6,169.6 L946.9,167Z"/><circle cx="947.6" cy="157.2" r="3.56"/></g>
<g fill="#5b8ba8"><path d="M937.9,158.4 L939.7,158.4 L939.5,168.2 L938.8,170.8 L938.1,168.2Z"/><circle cx="938.8" cy="158.4" r="3.56"/></g>
<g fill="#d68d62"><path d="M932.9,158.5 L934.7,158.5 L934.5,168.3 L933.8,170.9 L933.1,168.3Z"/><circle cx="933.8" cy="158.5" r="3.56"/></g>
<g fill="#d68d62"><path d="M756.3,158.9 L758.1,158.9 L757.9,168.7 L757.2,171.3 L756.5,168.7Z"/><circle cx="757.2" cy="158.9" r="3.56"/></g>
<g fill="#5b8ba8"><path d="M947.1,158.9 L948.9,158.9 L948.7,168.7 L948,171.3 L947.3,168.7Z"/><circle cx="948" cy="158.9" r="3.56"/></g>
<g fill="#d68d62"><path d="M753,159.4 L754.8,159.4 L754.6,169.2 L753.9,171.8 L753.2,169.2Z"/><circle cx="753.9" cy="159.4" r="3.56"/></g>
<g fill="#5b8ba8"><path d="M485.7,159.7 L487.5,159.7 L487.3,169.5 L486.6,172.1 L485.9,169.5Z"/><circle cx="486.6" cy="159.7" r="3.56"/></g>
<g fill="#5b8ba8"><path d="M777.4,160.2 L779.2,160.2 L779,170 L778.3,172.6 L777.6,170Z"/><circle cx="778.3" cy="160.2" r="3.56"/></g>
<g fill="#5b8ba8"><path d="M932.1,160.9 L933.9,160.9 L933.7,170.7 L933,173.3 L932.3,170.7Z"/><circle cx="933" cy="160.9" r="3.56"/></g>
<g fill="#5b8ba8"><path d="M717.6,161 L719.4,161 L719.2,170.8 L718.5,173.4 L717.8,170.8Z"/><circle cx="718.5" cy="161" r="3.56"/></g>
<g fill="#6a3a60"><path d="M808.4,161 L810.2,161 L810,170.8 L809.3,173.4 L808.6,170.8Z"/><circle cx="809.3" cy="161" r="3.56"/></g>
<g fill="#5b8ba8"><path d="M515.4,161.9 L517.2,161.9 L517,171.7 L516.3,174.3 L515.6,171.7Z"/><circle cx="516.3" cy="161.9" r="3.56"/></g>
<g fill="#5b8ba8"><path d="M763.3,161.9 L765.1,161.9 L764.9,171.7 L764.2,174.3 L763.5,171.7Z"/><circle cx="764.2" cy="161.9" r="3.56"/></g>
<g fill="#d68d62"><path d="M928.5,162.5 L930.3,162.5 L930.1,172.3 L929.4,174.9 L928.7,172.3Z"/><circle cx="929.4" cy="162.5" r="3.56"/></g>
<g fill="#5b8ba8"><path d="M692.4,162.7 L694.2,162.7 L694,172.5 L693.3,175.1 L692.6,172.5Z"/><circle cx="693.3" cy="162.7" r="3.56"/></g>
<g fill="#5b8ba8"><path d="M948.7,163 L950.5,163 L950.3,172.8 L949.6,175.4 L948.9,172.8Z"/><circle cx="949.6" cy="163" r="3.56"/></g>
<g fill="#5b8ba8"><path d="M728.4,163.4 L730.2,163.4 L730,173.2 L729.3,175.8 L728.6,173.2Z"/><circle cx="729.3" cy="163.4" r="3.56"/></g>
<g fill="#5b8ba8"><path d="M828.5,163.4 L830.3,163.4 L830.1,173.2 L829.4,175.8 L828.7,173.2Z"/><circle cx="829.4" cy="163.4" r="3.56"/></g>
<g fill="#6a3a60"><path d="M830.5,163.4 L832.3,163.4 L832.1,173.2 L831.4,175.8 L830.7,173.2Z"/><circle cx="831.4" cy="163.4" r="3.56"/></g>
<g fill="#5b8ba8"><path d="M945.4,163.8 L947.2,163.8 L947,173.6 L946.3,176.2 L945.6,173.6Z"/><circle cx="946.3" cy="163.8" r="3.56"/></g>
<g fill="#5b8ba8"><path d="M660.7,164.7 L662.5,164.7 L662.3,174.5 L661.6,177.1 L660.9,174.5Z"/><circle cx="661.6" cy="164.7" r="3.56"/></g>
<g fill="#6a3a60"><path d="M665.7,165.5 L667.5,165.5 L667.3,175.3 L666.6,177.9 L665.9,175.3Z"/><circle cx="666.6" cy="165.5" r="3.56"/></g>
<g fill="#d68d62"><path d="M930.5,165.5 L932.3,165.5 L932.1,175.3 L931.4,177.9 L930.7,175.3Z"/><circle cx="931.4" cy="165.5" r="3.56"/></g>
<g fill="#5b8ba8"><path d="M566.4,166.8 L568.2,166.8 L568,176.6 L567.3,179.2 L566.6,176.6Z"/><circle cx="567.3" cy="166.8" r="3.56"/></g>
<g fill="#5b8ba8"><path d="M612,167.5 L613.8,167.5 L613.6,177.3 L612.9,179.9 L612.2,177.3Z"/><circle cx="612.9" cy="167.5" r="3.56"/></g>
<g fill="#5b8ba8"><path d="M895.8,167.5 L897.6,167.5 L897.4,177.3 L896.7,179.9 L896,177.3Z"/><circle cx="896.7" cy="167.5" r="3.56"/></g>
<g fill="#5b8ba8"><path d="M484.4,167.7 L486.2,167.7 L486,177.5 L485.3,180.1 L484.6,177.5Z"/><circle cx="485.3" cy="167.7" r="3.56"/></g>
<g fill="#5b8ba8"><path d="M446,168.3 L447.8,168.3 L447.6,178.1 L446.9,180.7 L446.2,178.1Z"/><circle cx="446.9" cy="168.3" r="3.56"/></g>
<g fill="#5b8ba8"><path d="M565.6,168.8 L567.4,168.8 L567.2,178.6 L566.5,181.2 L565.8,178.6Z"/><circle cx="566.5" cy="168.8" r="3.56"/></g>
<g fill="#5b8ba8"><path d="M667.3,168.8 L669.1,168.8 L668.9,178.6 L668.2,181.2 L667.5,178.6Z"/><circle cx="668.2" cy="168.8" r="3.56"/></g>
<g fill="#5b8ba8"><path d="M925.5,168.8 L927.3,168.8 L927.1,178.6 L926.4,181.2 L925.7,178.6Z"/><circle cx="926.4" cy="168.8" r="3.56"/></g>
<g fill="#d68d62"><path d="M832,169.7 L833.8,169.7 L833.6,179.5 L832.9,182.1 L832.2,179.5Z"/><circle cx="832.9" cy="169.7" r="3.56"/></g>
<g fill="#6a3a60"><path d="M790,169.7 L791.8,169.7 L791.6,179.5 L790.9,182.1 L790.2,179.5Z"/><circle cx="790.9" cy="169.7" r="3.56"/></g>
<g fill="#5b8ba8"><path d="M920.5,169.7 L922.3,169.7 L922.1,179.5 L921.4,182.1 L920.7,179.5Z"/><circle cx="921.4" cy="169.7" r="3.56"/></g>
<g fill="#d68d62"><path d="M924.6,169.7 L926.4,169.7 L926.2,179.5 L925.5,182.1 L924.8,179.5Z"/><circle cx="925.5" cy="169.7" r="3.56"/></g>
<g fill="#6a3a60"><path d="M612,170.2 L613.8,170.2 L613.6,180 L612.9,182.6 L612.2,180Z"/><circle cx="612.9" cy="170.2" r="3.56"/></g>
<g fill="#5b8ba8"><path d="M937.6,171 L939.4,171 L939.2,180.8 L938.5,183.4 L937.8,180.8Z"/><circle cx="938.5" cy="171" r="3.56"/></g>
<g fill="#d68d62"><path d="M918.8,171.3 L920.6,171.3 L920.4,181.1 L919.7,183.7 L919,181.1Z"/><circle cx="919.7" cy="171.3" r="3.56"/></g>
<g fill="#5b8ba8"><path d="M639.6,172 L641.4,172 L641.2,181.8 L640.5,184.4 L639.8,181.8Z"/><circle cx="640.5" cy="172" r="3.56"/></g>
<g fill="#d68d62"><path d="M721.3,172.6 L723.1,172.6 L722.9,182.4 L722.2,185 L721.5,182.4Z"/><circle cx="722.2" cy="172.6" r="3.56"/></g>
<g fill="#d68d62"><path d="M737.5,173.8 L739.3,173.8 L739.1,183.6 L738.4,186.2 L737.7,183.6Z"/><circle cx="738.4" cy="173.8" r="3.56"/></g>
<g fill="#5b8ba8"><path d="M873.2,173.8 L875,173.8 L874.8,183.6 L874.1,186.2 L873.4,183.6Z"/><circle cx="874.1" cy="173.8" r="3.56"/></g>
<g fill="#6a3a60"><path d="M930,174.6 L931.8,174.6 L931.6,184.4 L930.9,187 L930.2,184.4Z"/><circle cx="930.9" cy="174.6" r="3.56"/></g>
<g fill="#6a3a60"><path d="M917.2,174.6 L919,174.6 L918.8,184.4 L918.1,187 L917.4,184.4Z"/><circle cx="918.1" cy="174.6" r="3.56"/></g>
<g fill="#d68d62"><path d="M915.5,175.5 L917.3,175.5 L917.1,185.3 L916.4,187.9 L915.7,185.3Z"/><circle cx="916.4" cy="175.5" r="3.56"/></g>
<g fill="#5b8ba8"><path d="M489.4,176.3 L491.2,176.3 L491,186.1 L490.3,188.7 L489.6,186.1Z"/><circle cx="490.3" cy="176.3" r="3.56"/></g>
<g fill="#d68d62"><path d="M900.6,176.6 L902.4,176.6 L902.2,186.4 L901.5,189 L900.8,186.4Z"/><circle cx="901.5" cy="176.6" r="3.56"/></g>
<g fill="#d68d62"><path d="M485.5,177.1 L487.3,177.1 L487.1,186.9 L486.4,189.5 L485.7,186.9Z"/><circle cx="486.4" cy="177.1" r="3.56"/></g>
<g fill="#d68d62"><path d="M563.1,177.5 L564.9,177.5 L564.7,187.3 L564,189.9 L563.3,187.3Z"/><circle cx="564" cy="177.5" r="3.56"/></g>
<g fill="#5b8ba8"><path d="M912.2,178.8 L914,178.8 L913.8,188.6 L913.1,191.2 L912.4,188.6Z"/><circle cx="913.1" cy="178.8" r="3.56"/></g>
<g fill="#5b8ba8"><path d="M632.5,179 L634.3,179 L634.1,188.8 L633.4,191.4 L632.7,188.8Z"/><circle cx="633.4" cy="179" r="3.56"/></g>
<g fill="#5b8ba8"><path d="M770.3,179.6 L772.1,179.6 L771.9,189.4 L771.2,192 L770.5,189.4Z"/><circle cx="771.2" cy="179.6" r="3.56"/></g>
<g fill="#6a3a60"><path d="M848.1,179.6 L849.9,179.6 L849.7,189.4 L849,192 L848.3,189.4Z"/><circle cx="849" cy="179.6" r="3.56"/></g>
<g fill="#5b8ba8"><path d="M906.4,180.5 L908.2,180.5 L908,190.3 L907.3,192.9 L906.6,190.3Z"/><circle cx="907.3" cy="180.5" r="3.56"/></g>
<g fill="#5b8ba8"><path d="M895.8,181.3 L897.6,181.3 L897.4,191.1 L896.7,193.7 L896,191.1Z"/><circle cx="896.7" cy="181.3" r="3.56"/></g>
<g fill="#5b8ba8"><path d="M884.8,182.1 L886.6,182.1 L886.4,191.9 L885.7,194.5 L885,191.9Z"/><circle cx="885.7" cy="182.1" r="3.56"/></g>
<g fill="#5b8ba8"><path d="M917.2,182.1 L919,182.1 L918.8,191.9 L918.1,194.5 L917.4,191.9Z"/><circle cx="918.1" cy="182.1" r="3.56"/></g>
<g fill="#d68d62"><path d="M487.7,182.4 L489.5,182.4 L489.3,192.2 L488.6,194.8 L487.9,192.2Z"/><circle cx="488.6" cy="182.4" r="3.56"/></g>
<g fill="#5b8ba8"><path d="M880.6,182.9 L882.4,182.9 L882.2,192.7 L881.5,195.3 L880.8,192.7Z"/><circle cx="881.5" cy="182.9" r="3.56"/></g>
<g fill="#d68d62"><path d="M787.2,183.3 L789,183.3 L788.8,193.1 L788.1,195.7 L787.4,193.1Z"/><circle cx="788.1" cy="183.3" r="3.56"/></g>
<g fill="#5b8ba8"><path d="M755.5,183.8 L757.3,183.8 L757.1,193.6 L756.4,196.2 L755.7,193.6Z"/><circle cx="756.4" cy="183.8" r="3.56"/></g>
<g fill="#5b8ba8"><path d="M813.3,184.3 L815.1,184.3 L814.9,194.1 L814.2,196.7 L813.5,194.1Z"/><circle cx="814.2" cy="184.3" r="3.56"/></g>
<g fill="#5b8ba8"><path d="M559.4,184.6 L561.2,184.6 L561,194.4 L560.3,197 L559.6,194.4Z"/><circle cx="560.3" cy="184.6" r="3.56"/></g>
<g fill="#5b8ba8"><path d="M840.5,185.4 L842.3,185.4 L842.1,195.2 L841.4,197.8 L840.7,195.2Z"/><circle cx="841.4" cy="185.4" r="3.56"/></g>
<g fill="#6a3a60"><path d="M814.9,186.8 L816.7,186.8 L816.5,196.6 L815.8,199.2 L815.1,196.6Z"/><circle cx="815.8" cy="186.8" r="3.56"/></g>
<g fill="#6a3a60"><path d="M904.4,186.8 L906.2,186.8 L906,196.6 L905.3,199.2 L904.6,196.6Z"/><circle cx="905.3" cy="186.8" r="3.56"/></g>
<g fill="#d68d62"><path d="M738.9,188.8 L740.7,188.8 L740.5,198.6 L739.8,201.2 L739.1,198.6Z"/><circle cx="739.8" cy="188.8" r="3.56"/></g>
<g fill="#6a3a60"><path d="M565.9,189.3 L567.7,189.3 L567.5,199.1 L566.8,201.7 L566.1,199.1Z"/><circle cx="566.8" cy="189.3" r="3.56"/></g>
<g fill="#d68d62"><path d="M801.5,189.6 L803.3,189.6 L803.1,199.4 L802.4,202 L801.7,199.4Z"/><circle cx="802.4" cy="189.6" r="3.56"/></g>
<g fill="#6a3a60"><path d="M778.7,189.6 L780.5,189.6 L780.3,199.4 L779.6,202 L778.9,199.4Z"/><circle cx="779.6" cy="189.6" r="3.56"/></g>
<g fill="#5b8ba8"><path d="M898.9,190.4 L900.7,190.4 L900.5,200.2 L899.8,202.8 L899.1,200.2Z"/><circle cx="899.8" cy="190.4" r="3.56"/></g>
<g fill="#d68d62"><path d="M560.9,191.2 L562.7,191.2 L562.5,201 L561.8,203.6 L561.1,201Z"/><circle cx="561.8" cy="191.2" r="3.56"/></g>
<g fill="#5b8ba8"><path d="M874.8,191.2 L876.6,191.2 L876.4,201 L875.7,203.6 L875,201Z"/><circle cx="875.7" cy="191.2" r="3.56"/></g>
<g fill="#5b8ba8"><path d="M563.6,191.6 L565.4,191.6 L565.2,201.4 L564.5,204 L563.8,201.4Z"/><circle cx="564.5" cy="191.6" r="3.56"/></g>
<g fill="#5b8ba8"><path d="M848.5,191.6 L850.3,191.6 L850.1,201.4 L849.4,204 L848.7,201.4Z"/><circle cx="849.4" cy="191.6" r="3.56"/></g>
<g fill="#6a3a60"><path d="M393.1,192.1 L394.9,192.1 L394.7,201.9 L394,204.5 L393.3,201.9Z"/><circle cx="394" cy="192.1" r="3.56"/></g>
<g fill="#5b8ba8"><path d="M897.3,192.1 L899.1,192.1 L898.9,201.9 L898.2,204.5 L897.5,201.9Z"/><circle cx="898.2" cy="192.1" r="3.56"/></g>
<g fill="#d68d62"><path d="M394.4,192.6 L396.2,192.6 L396,202.4 L395.3,205 L394.6,202.4Z"/><circle cx="395.3" cy="192.6" r="3.56"/></g>
<g fill="#5b8ba8"><path d="M764.6,193.7 L766.4,193.7 L766.2,203.5 L765.5,206.1 L764.8,203.5Z"/><circle cx="765.5" cy="193.7" r="3.56"/></g>
<g fill="#5b8ba8"><path d="M888.1,194.6 L889.9,194.6 L889.7,204.4 L889,207 L888.3,204.4Z"/><circle cx="889" cy="194.6" r="3.56"/></g>
<g fill="#5b8ba8"><path d="M879,195.4 L880.8,195.4 L880.6,205.2 L879.9,207.8 L879.2,205.2Z"/><circle cx="879.9" cy="195.4" r="3.56"/></g>
<g fill="#6a3a60"><path d="M888.5,195.7 L890.3,195.7 L890.1,205.5 L889.4,208.1 L888.7,205.5Z"/><circle cx="889.4" cy="195.7" r="3.56"/></g>
<g fill="#5b8ba8"><path d="M874,196.2 L875.8,196.2 L875.6,206 L874.9,208.6 L874.2,206Z"/><circle cx="874.9" cy="196.2" r="3.56"/></g>
<g fill="#5b8ba8"><path d="M831.4,196.6 L833.2,196.6 L833,206.4 L832.3,209 L831.6,206.4Z"/><circle cx="832.3" cy="196.6" r="3.56"/></g>
<g fill="#5b8ba8"><path d="M899.7,197.1 L901.5,197.1 L901.3,206.9 L900.6,209.5 L899.9,206.9Z"/><circle cx="900.6" cy="197.1" r="3.56"/></g>
<g fill="#5b8ba8"><path d="M774.2,197.9 L776,197.9 L775.8,207.7 L775.1,210.3 L774.4,207.7Z"/><circle cx="775.1" cy="197.9" r="3.56"/></g>
<g fill="#5b8ba8"><path d="M394.9,198.1 L396.7,198.1 L396.5,207.9 L395.8,210.5 L395.1,207.9Z"/><circle cx="395.8" cy="198.1" r="3.56"/></g>
<g fill="#5b8ba8"><path d="M542.5,198.2 L544.3,198.2 L544.1,208 L543.4,210.6 L542.7,208Z"/><circle cx="543.4" cy="198.2" r="3.56"/></g>
<g fill="#5b8ba8"><path d="M659.4,198.2 L661.2,198.2 L661,208 L660.3,210.6 L659.6,208Z"/><circle cx="660.3" cy="198.2" r="3.56"/></g>
<g fill="#6a3a60"><path d="M682.8,198.7 L684.6,198.7 L684.4,208.5 L683.7,211.1 L683,208.5Z"/><circle cx="683.7" cy="198.7" r="3.56"/></g>
<g fill="#5b8ba8"><path d="M884.8,198.7 L886.6,198.7 L886.4,208.5 L885.7,211.1 L885,208.5Z"/><circle cx="885.7" cy="198.7" r="3.56"/></g>
<g fill="#d68d62"><path d="M685.7,199.5 L687.5,199.5 L687.3,209.3 L686.6,211.9 L685.9,209.3Z"/><circle cx="686.6" cy="199.5" r="3.56"/></g>
<g fill="#6a3a60"><path d="M797.3,199.5 L799.1,199.5 L798.9,209.3 L798.2,211.9 L797.5,209.3Z"/><circle cx="798.2" cy="199.5" r="3.56"/></g>
<g fill="#d68d62"><path d="M669.8,200.4 L671.6,200.4 L671.4,210.2 L670.7,212.8 L670,210.2Z"/><circle cx="670.7" cy="200.4" r="3.56"/></g>
<g fill="#5b8ba8"><path d="M675.1,200.9 L676.9,200.9 L676.7,210.7 L676,213.3 L675.3,210.7Z"/><circle cx="676" cy="200.9" r="3.56"/></g>
<g fill="#d68d62"><path d="M708.7,201.2 L710.5,201.2 L710.3,211 L709.6,213.6 L708.9,211Z"/><circle cx="709.6" cy="201.2" r="3.56"/></g>
<g fill="#5b8ba8"><path d="M888.9,201.2 L890.7,201.2 L890.5,211 L889.8,213.6 L889.1,211Z"/><circle cx="889.8" cy="201.2" r="3.56"/></g>
<g fill="#d68d62"><path d="M682.1,201.7 L683.9,201.7 L683.7,211.5 L683,214.1 L682.3,211.5Z"/><circle cx="683" cy="201.7" r="3.56"/></g>
<g fill="#d68d62"><path d="M678.5,202 L680.3,202 L680.1,211.8 L679.4,214.4 L678.7,211.8Z"/><circle cx="679.4" cy="202" r="3.56"/></g>
<g fill="#5b8ba8"><path d="M902.2,202 L904,202 L903.8,211.8 L903.1,214.4 L902.4,211.8Z"/><circle cx="903.1" cy="202" r="3.56"/></g>
<g fill="#d68d62"><path d="M883.1,202.9 L884.9,202.9 L884.7,212.7 L884,215.3 L883.3,212.7Z"/><circle cx="884" cy="202.9" r="3.56"/></g>
<g fill="#6a3a60"><path d="M565.9,203.2 L567.7,203.2 L567.5,213 L566.8,215.6 L566.1,213Z"/><circle cx="566.8" cy="203.2" r="3.56"/></g>
<g fill="#5b8ba8"><path d="M726.4,203.4 L728.2,203.4 L728,213.2 L727.3,215.8 L726.6,213.2Z"/><circle cx="727.3" cy="203.4" r="3.56"/></g>
<g fill="#6a3a60"><path d="M880.1,203.7 L881.9,203.7 L881.7,213.5 L881,216.1 L880.3,213.5Z"/><circle cx="881" cy="203.7" r="3.56"/></g>
<g fill="#5b8ba8"><path d="M904.7,205.4 L906.5,205.4 L906.3,215.2 L905.6,217.8 L904.9,215.2Z"/><circle cx="905.6" cy="205.4" r="3.56"/></g>
<g fill="#6a3a60"><path d="M728.9,205.7 L730.7,205.7 L730.5,215.5 L729.8,218.1 L729.1,215.5Z"/><circle cx="729.8" cy="205.7" r="3.56"/></g>
<g fill="#5b8ba8"><path d="M709.8,207 L711.6,207 L711.4,216.8 L710.7,219.4 L710,216.8Z"/><circle cx="710.7" cy="207" r="3.56"/></g>
<g fill="#5b8ba8"><path d="M906.4,207 L908.2,207 L908,216.8 L907.3,219.4 L906.6,216.8Z"/><circle cx="907.3" cy="207" r="3.56"/></g>
<g fill="#5b8ba8"><path d="M357.9,208.2 L359.7,208.2 L359.5,218 L358.8,220.6 L358.1,218Z"/><circle cx="358.8" cy="208.2" r="3.56"/></g>
<g fill="#6a3a60"><path d="M378.5,208.3 L380.3,208.3 L380.1,218.1 L379.4,220.7 L378.7,218.1Z"/><circle cx="379.4" cy="208.3" r="3.56"/></g>
<g fill="#d68d62"><path d="M361.5,208.7 L363.3,208.7 L363.1,218.5 L362.4,221.1 L361.7,218.5Z"/><circle cx="362.4" cy="208.7" r="3.56"/></g>
<g fill="#6a3a60"><path d="M605.4,208.7 L607.2,208.7 L607,218.5 L606.3,221.1 L605.6,218.5Z"/><circle cx="606.3" cy="208.7" r="3.56"/></g>
<g fill="#d68d62"><path d="M376.5,209 L378.3,209 L378.1,218.8 L377.4,221.4 L376.7,218.8Z"/><circle cx="377.4" cy="209" r="3.56"/></g>
<g fill="#5b8ba8"><path d="M664.7,209 L666.5,209 L666.3,218.8 L665.6,221.4 L664.9,218.8Z"/><circle cx="665.6" cy="209" r="3.56"/></g>
<g fill="#5b8ba8"><path d="M821.1,209 L822.9,209 L822.7,218.8 L822,221.4 L821.3,218.8Z"/><circle cx="822" cy="209" r="3.56"/></g>
<g fill="#5b8ba8"><path d="M830.5,209.5 L832.3,209.5 L832.1,219.3 L831.4,221.9 L830.7,219.3Z"/><circle cx="831.4" cy="209.5" r="3.56"/></g>
<g fill="#5b8ba8"><path d="M792.8,212.8 L794.6,212.8 L794.4,222.6 L793.7,225.2 L793,222.6Z"/><circle cx="793.7" cy="212.8" r="3.56"/></g>
<g fill="#5b8ba8"><path d="M809.9,213.7 L811.7,213.7 L811.5,223.5 L810.8,226.1 L810.1,223.5Z"/><circle cx="810.8" cy="213.7" r="3.56"/></g>
<g fill="#d68d62"><path d="M366.5,214.5 L368.3,214.5 L368.1,224.3 L367.4,226.9 L366.7,224.3Z"/><circle cx="367.4" cy="214.5" r="3.56"/></g>
<g fill="#6a3a60"><path d="M797.8,214.5 L799.6,214.5 L799.4,224.3 L798.7,226.9 L798,224.3Z"/><circle cx="798.7" cy="214.5" r="3.56"/></g>
<g fill="#5b8ba8"><path d="M644.8,214.8 L646.6,214.8 L646.4,224.6 L645.7,227.2 L645,224.6Z"/><circle cx="645.7" cy="214.8" r="3.56"/></g>
<g fill="#5b8ba8"><path d="M866.5,215.3 L868.3,215.3 L868.1,225.1 L867.4,227.7 L866.7,225.1Z"/><circle cx="867.4" cy="215.3" r="3.56"/></g>
<g fill="#6a3a60"><path d="M377.8,215.7 L379.6,215.7 L379.4,225.5 L378.7,228.1 L378,225.5Z"/><circle cx="378.7" cy="215.7" r="3.56"/></g>
<g fill="#d68d62"><path d="M762.5,215.7 L764.3,215.7 L764.1,225.5 L763.4,228.1 L762.7,225.5Z"/><circle cx="763.4" cy="215.7" r="3.56"/></g>
<g fill="#d68d62"><path d="M369.5,215.8 L371.3,215.8 L371.1,225.6 L370.4,228.2 L369.7,225.6Z"/><circle cx="370.4" cy="215.8" r="3.56"/></g>
<g fill="#6a3a60"><path d="M364,217.8 L365.8,217.8 L365.6,227.6 L364.9,230.2 L364.2,227.6Z"/><circle cx="364.9" cy="217.8" r="3.56"/></g>
<g fill="#5b8ba8"><path d="M844,218.1 L845.8,218.1 L845.6,227.9 L844.9,230.5 L844.2,227.9Z"/><circle cx="844.9" cy="218.1" r="3.56"/></g>
<g fill="#5b8ba8"><path d="M767.9,218.6 L769.7,218.6 L769.5,228.4 L768.8,231 L768.1,228.4Z"/><circle cx="768.8" cy="218.6" r="3.56"/></g>
<g fill="#5b8ba8"><path d="M743.9,219.1 L745.7,219.1 L745.5,228.9 L744.8,231.5 L744.1,228.9Z"/><circle cx="744.8" cy="219.1" r="3.56"/></g>
<g fill="#5b8ba8"><path d="M364,219.5 L365.8,219.5 L365.6,229.3 L364.9,231.9 L364.2,229.3Z"/><circle cx="364.9" cy="219.5" r="3.56"/></g>
<g fill="#d68d62"><path d="M369,219.5 L370.8,219.5 L370.6,229.3 L369.9,231.9 L369.2,229.3Z"/><circle cx="369.9" cy="219.5" r="3.56"/></g>
<g fill="#d68d62"><path d="M380.6,220.6 L382.4,220.6 L382.2,230.4 L381.5,233 L380.8,230.4Z"/><circle cx="381.5" cy="220.6" r="3.56"/></g>
<g fill="#5b8ba8"><path d="M800,221.5 L801.8,221.5 L801.6,231.3 L800.9,233.9 L800.2,231.3Z"/><circle cx="800.9" cy="221.5" r="3.56"/></g>
<g fill="#d68d62"><path d="M878.2,222.3 L880,222.3 L879.8,232.1 L879.1,234.7 L878.4,232.1Z"/><circle cx="879.1" cy="222.3" r="3.56"/></g>
<g fill="#5b8ba8"><path d="M738.4,224.1 L740.2,224.1 L740,233.9 L739.3,236.5 L738.6,233.9Z"/><circle cx="739.3" cy="224.1" r="3.56"/></g>
<g fill="#6a3a60"><path d="M370.6,224.8 L372.4,224.8 L372.2,234.6 L371.5,237.2 L370.8,234.6Z"/><circle cx="371.5" cy="224.8" r="3.56"/></g>
<g fill="#5b8ba8"><path d="M848.5,225.3 L850.3,225.3 L850.1,235.1 L849.4,237.7 L848.7,235.1Z"/><circle cx="849.4" cy="225.3" r="3.56"/></g>
<g fill="#d68d62"><path d="M697.4,226.4 L699.2,226.4 L699,236.2 L698.3,238.8 L697.6,236.2Z"/><circle cx="698.3" cy="226.4" r="3.56"/></g>
<g fill="#d68d62"><path d="M888.9,228.6 L890.7,228.6 L890.5,238.4 L889.8,241 L889.1,238.4Z"/><circle cx="889.8" cy="228.6" r="3.56"/></g>
<g fill="#5b8ba8"><path d="M775.4,229.9 L777.2,229.9 L777,239.7 L776.3,242.3 L775.6,239.7Z"/><circle cx="776.3" cy="229.9" r="3.56"/></g>
<g fill="#6a3a60"><path d="M895.6,231.9 L897.4,231.9 L897.2,241.7 L896.5,244.3 L895.8,241.7Z"/><circle cx="896.5" cy="231.9" r="3.56"/></g>
<g fill="#5b8ba8"><path d="M460.3,232.8 L462.1,232.8 L461.9,242.6 L461.2,245.2 L460.5,242.6Z"/><circle cx="461.2" cy="232.8" r="3.56"/></g>
<g fill="#6a3a60"><path d="M394.9,233.3 L396.7,233.3 L396.5,243.1 L395.8,245.7 L395.1,243.1Z"/><circle cx="395.8" cy="233.3" r="3.56"/></g>
<g fill="#d68d62"><path d="M891.8,233.3 L893.6,233.3 L893.4,243.1 L892.7,245.7 L892,243.1Z"/><circle cx="892.7" cy="233.3" r="3.56"/></g>
<g fill="#5b8ba8"><path d="M527,233.6 L528.8,233.6 L528.6,243.4 L527.9,246 L527.2,243.4Z"/><circle cx="527.9" cy="233.6" r="3.56"/></g>
<g fill="#d68d62"><path d="M373.6,234.1 L375.4,234.1 L375.2,243.9 L374.5,246.5 L373.8,243.9Z"/><circle cx="374.5" cy="234.1" r="3.56"/></g>
<g fill="#5b8ba8"><path d="M692.4,238.2 L694.2,238.2 L694,248 L693.3,250.6 L692.6,248Z"/><circle cx="693.3" cy="238.2" r="3.56"/></g>
<g fill="#d68d62"><path d="M400.5,239.1 L402.3,239.1 L402.1,248.9 L401.4,251.5 L400.7,248.9Z"/><circle cx="401.4" cy="239.1" r="3.56"/></g>
<g fill="#5b8ba8"><path d="M821.9,239.1 L823.7,239.1 L823.5,248.9 L822.8,251.5 L822.1,248.9Z"/><circle cx="822.8" cy="239.1" r="3.56"/></g>
<g fill="#6a3a60"><path d="M771.6,241.1 L773.4,241.1 L773.2,250.9 L772.5,253.5 L771.8,250.9Z"/><circle cx="772.5" cy="241.1" r="3.56"/></g>
<g fill="#d68d62"><path d="M447,241.9 L448.8,241.9 L448.6,251.7 L447.9,254.3 L447.2,251.7Z"/><circle cx="447.9" cy="241.9" r="3.56"/></g>
<g fill="#6a3a60"><path d="M666,241.9 L667.8,241.9 L667.6,251.7 L666.9,254.3 L666.2,251.7Z"/><circle cx="666.9" cy="241.9" r="3.56"/></g>
<g fill="#5b8ba8"><path d="M687.4,241.9 L689.2,241.9 L689,251.7 L688.3,254.3 L687.6,251.7Z"/><circle cx="688.3" cy="241.9" r="3.56"/></g>
<g fill="#5b8ba8"><path d="M654.7,242.2 L656.5,242.2 L656.3,252 L655.6,254.6 L654.9,252Z"/><circle cx="655.6" cy="242.2" r="3.56"/></g>
<g fill="#d68d62"><path d="M846,242.7 L847.8,242.7 L847.6,252.5 L846.9,255.1 L846.2,252.5Z"/><circle cx="846.9" cy="242.7" r="3.56"/></g>
<g fill="#6a3a60"><path d="M851.6,242.7 L853.4,242.7 L853.2,252.5 L852.5,255.1 L851.8,252.5Z"/><circle cx="852.5" cy="242.7" r="3.56"/></g>
<g fill="#6a3a60"><path d="M449.5,243.2 L451.3,243.2 L451.1,253 L450.4,255.6 L449.7,253Z"/><circle cx="450.4" cy="243.2" r="3.56"/></g>
<g fill="#5b8ba8"><path d="M668.5,243.2 L670.3,243.2 L670.1,253 L669.4,255.6 L668.7,253Z"/><circle cx="669.4" cy="243.2" r="3.56"/></g>
<g fill="#d68d62"><path d="M862.4,243.5 L864.2,243.5 L864,253.3 L863.3,255.9 L862.6,253.3Z"/><circle cx="863.3" cy="243.5" r="3.56"/></g>
<g fill="#d68d62"><path d="M804.5,244 L806.3,244 L806.1,253.8 L805.4,256.4 L804.7,253.8Z"/><circle cx="805.4" cy="244" r="3.56"/></g>
<g fill="#5b8ba8"><path d="M770.9,244.7 L772.7,244.7 L772.5,254.5 L771.8,257.1 L771.1,254.5Z"/><circle cx="771.8" cy="244.7" r="3.56"/></g>
<g fill="#5b8ba8"><path d="M859.4,244.9 L861.2,244.9 L861,254.7 L860.3,257.3 L859.6,254.7Z"/><circle cx="860.3" cy="244.9" r="3.56"/></g>
<g fill="#5b8ba8"><path d="M726.9,246.4 L728.7,246.4 L728.5,256.2 L727.8,258.8 L727.1,256.2Z"/><circle cx="727.8" cy="246.4" r="3.56"/></g>
<g fill="#d68d62"><path d="M775.9,246.4 L777.7,246.4 L777.5,256.2 L776.8,258.8 L776.1,256.2Z"/><circle cx="776.8" cy="246.4" r="3.56"/></g>
<g fill="#6a3a60"><path d="M864.9,246.9 L866.7,246.9 L866.5,256.7 L865.8,259.3 L865.1,256.7Z"/><circle cx="865.8" cy="246.9" r="3.56"/></g>
<g fill="#5b8ba8"><path d="M649.4,248.2 L651.2,248.2 L651,258 L650.3,260.6 L649.6,258Z"/><circle cx="650.3" cy="248.2" r="3.56"/></g>
<g fill="#5b8ba8"><path d="M521.2,250.5 L523,250.5 L522.8,260.3 L522.1,262.9 L521.4,260.3Z"/><circle cx="522.1" cy="250.5" r="3.56"/></g>
<g fill="#5b8ba8"><path d="M553.6,250.5 L555.4,250.5 L555.2,260.3 L554.5,262.9 L553.8,260.3Z"/><circle cx="554.5" cy="250.5" r="3.56"/></g>
<g fill="#5b8ba8"><path d="M551.4,251 L553.2,251 L553,260.8 L552.3,263.4 L551.6,260.8Z"/><circle cx="552.3" cy="251" r="3.56"/></g>
<g fill="#6a3a60"><path d="M648.6,251 L650.4,251 L650.2,260.8 L649.5,263.4 L648.8,260.8Z"/><circle cx="649.5" cy="251" r="3.56"/></g>
<g fill="#5b8ba8"><path d="M649.4,252 L651.2,252 L651,261.8 L650.3,264.4 L649.6,261.8Z"/><circle cx="650.3" cy="252" r="3.56"/></g>
<g fill="#5b8ba8"><path d="M684.4,252.3 L686.2,252.3 L686,262.1 L685.3,264.7 L684.6,262.1Z"/><circle cx="685.3" cy="252.3" r="3.56"/></g>
<g fill="#5b8ba8"><path d="M545.3,253.5 L547.1,253.5 L546.9,263.3 L546.2,265.9 L545.5,263.3Z"/><circle cx="546.2" cy="253.5" r="3.56"/></g>
<g fill="#6a3a60"><path d="M403.4,254 L405.2,254 L405,263.8 L404.3,266.4 L403.6,263.8Z"/><circle cx="404.3" cy="254" r="3.56"/></g>
<g fill="#5b8ba8"><path d="M704.3,254.3 L706.1,254.3 L705.9,264.1 L705.2,266.7 L704.5,264.1Z"/><circle cx="705.2" cy="254.3" r="3.56"/></g>
<g fill="#6a3a60"><path d="M839.3,254.3 L841.1,254.3 L840.9,264.1 L840.2,266.7 L839.5,264.1Z"/><circle cx="840.2" cy="254.3" r="3.56"/></g>
<g fill="#d68d62"><path d="M599.9,254.8 L601.7,254.8 L601.5,264.6 L600.8,267.2 L600.1,264.6Z"/><circle cx="600.8" cy="254.8" r="3.56"/></g>
<g fill="#d68d62"><path d="M649.4,254.8 L651.2,254.8 L651,264.6 L650.3,267.2 L649.6,264.6Z"/><circle cx="650.3" cy="254.8" r="3.56"/></g>
<g fill="#5b8ba8"><path d="M487.7,255.5 L489.5,255.5 L489.3,265.3 L488.6,267.9 L487.9,265.3Z"/><circle cx="488.6" cy="255.5" r="3.56"/></g>
<g fill="#6a3a60"><path d="M733.9,256 L735.7,256 L735.5,265.8 L734.8,268.4 L734.1,265.8Z"/><circle cx="734.8" cy="256" r="3.56"/></g>
<g fill="#6a3a60"><path d="M544.5,256.8 L546.3,256.8 L546.1,266.6 L545.4,269.2 L544.7,266.6Z"/><circle cx="545.4" cy="256.8" r="3.56"/></g>
<g fill="#d68d62"><path d="M861.9,257.2 L863.7,257.2 L863.5,267 L862.8,269.6 L862.1,267Z"/><circle cx="862.8" cy="257.2" r="3.56"/></g>
<g fill="#d68d62"><path d="M788.7,257.7 L790.5,257.7 L790.3,267.5 L789.6,270.1 L788.9,267.5Z"/><circle cx="789.6" cy="257.7" r="3.56"/></g>
<g fill="#5b8ba8"><path d="M734.7,258.2 L736.5,258.2 L736.3,268 L735.6,270.6 L734.9,268Z"/><circle cx="735.6" cy="258.2" r="3.56"/></g>
<g fill="#5b8ba8"><path d="M837.7,259.3 L839.5,259.3 L839.3,269.1 L838.6,271.7 L837.9,269.1Z"/><circle cx="838.6" cy="259.3" r="3.56"/></g>
<g fill="#5b8ba8"><path d="M821.4,259.7 L823.2,259.7 L823,269.5 L822.3,272.1 L821.6,269.5Z"/><circle cx="822.3" cy="259.7" r="3.56"/></g>
<g fill="#5b8ba8"><path d="M761.6,259.8 L763.4,259.8 L763.2,269.6 L762.5,272.2 L761.8,269.6Z"/><circle cx="762.5" cy="259.8" r="3.56"/></g>
<g fill="#d68d62"><path d="M707.3,260.2 L709.1,260.2 L708.9,270 L708.2,272.6 L707.5,270Z"/><circle cx="708.2" cy="260.2" r="3.56"/></g>
<g fill="#d68d62"><path d="M436.7,260.3 L438.5,260.3 L438.3,270.1 L437.6,272.7 L436.9,270.1Z"/><circle cx="437.6" cy="260.3" r="3.56"/></g>
<g fill="#5b8ba8"><path d="M709.3,261.3 L711.1,261.3 L710.9,271.1 L710.2,273.7 L709.5,271.1Z"/><circle cx="710.2" cy="261.3" r="3.56"/></g>
<g fill="#d68d62"><path d="M413.3,262.1 L415.1,262.1 L414.9,271.9 L414.2,274.5 L413.5,271.9Z"/><circle cx="414.2" cy="262.1" r="3.56"/></g>
<g fill="#5b8ba8"><path d="M816.1,262.6 L817.9,262.6 L817.7,272.4 L817,275 L816.3,272.4Z"/><circle cx="817" cy="262.6" r="3.56"/></g>
<g fill="#5b8ba8"><path d="M638.9,263.5 L640.7,263.5 L640.5,273.3 L639.8,275.9 L639.1,273.3Z"/><circle cx="639.8" cy="263.5" r="3.56"/></g>
<g fill="#d68d62"><path d="M770.9,264 L772.7,264 L772.5,273.8 L771.8,276.4 L771.1,273.8Z"/><circle cx="771.8" cy="264" r="3.56"/></g>
<g fill="#d68d62"><path d="M409.7,266 L411.5,266 L411.3,275.8 L410.6,278.4 L409.9,275.8Z"/><circle cx="410.6" cy="266" r="3.56"/></g>
<g fill="#6a3a60"><path d="M412.7,266.3 L414.5,266.3 L414.3,276.1 L413.6,278.7 L412.9,276.1Z"/><circle cx="413.6" cy="266.3" r="3.56"/></g>
<g fill="#5b8ba8"><path d="M740.5,266.8 L742.3,266.8 L742.1,276.6 L741.4,279.2 L740.7,276.6Z"/><circle cx="741.4" cy="266.8" r="3.56"/></g>
<g fill="#d68d62"><path d="M872.3,269 L874.1,269 L873.9,278.8 L873.2,281.4 L872.5,278.8Z"/><circle cx="873.2" cy="269" r="3.56"/></g>
<g fill="#d68d62"><path d="M401.9,269.3 L403.7,269.3 L403.5,279.1 L402.8,281.7 L402.1,279.1Z"/><circle cx="402.8" cy="269.3" r="3.56"/></g>
<g fill="#d68d62"><path d="M420.9,269.6 L422.7,269.6 L422.5,279.4 L421.8,282 L421.1,279.4Z"/><circle cx="421.8" cy="269.6" r="3.56"/></g>
<g fill="#5b8ba8"><path d="M410.5,270.1 L412.3,270.1 L412.1,279.9 L411.4,282.5 L410.7,279.9Z"/><circle cx="411.4" cy="270.1" r="3.56"/></g>
<g fill="#d68d62"><path d="M405.5,270.1 L407.3,270.1 L407.1,279.9 L406.4,282.5 L405.7,279.9Z"/><circle cx="406.4" cy="270.1" r="3.56"/></g>
<g fill="#d68d62"><path d="M418.8,270.1 L420.6,270.1 L420.4,279.9 L419.7,282.5 L419,279.9Z"/><circle cx="419.7" cy="270.1" r="3.56"/></g>
<g fill="#d68d62"><path d="M423.8,271.8 L425.6,271.8 L425.4,281.6 L424.7,284.2 L424,281.6Z"/><circle cx="424.7" cy="271.8" r="3.56"/></g>
<g fill="#5b8ba8"><path d="M799,271.8 L800.8,271.8 L800.6,281.6 L799.9,284.2 L799.2,281.6Z"/><circle cx="799.9" cy="271.8" r="3.56"/></g>
<g fill="#d68d62"><path d="M836.8,271.8 L838.6,271.8 L838.4,281.6 L837.7,284.2 L837,281.6Z"/><circle cx="837.7" cy="271.8" r="3.56"/></g>
<g fill="#6a3a60"><path d="M417,272.4 L418.8,272.4 L418.6,282.2 L417.9,284.8 L417.2,282.2Z"/><circle cx="417.9" cy="272.4" r="3.56"/></g>
<g fill="#d68d62"><path d="M810.6,272.6 L812.4,272.6 L812.2,282.4 L811.5,285 L810.8,282.4Z"/><circle cx="811.5" cy="272.6" r="3.56"/></g>
<g fill="#d68d62"><path d="M410.7,273.3 L412.5,273.3 L412.3,283.1 L411.6,285.7 L410.9,283.1Z"/><circle cx="411.6" cy="273.3" r="3.56"/></g>
<g fill="#5b8ba8"><path d="M412.2,274.3 L414,274.3 L413.8,284.1 L413.1,286.7 L412.4,284.1Z"/><circle cx="413.1" cy="274.3" r="3.56"/></g>
<g fill="#5b8ba8"><path d="M431.7,274.3 L433.5,274.3 L433.3,284.1 L432.6,286.7 L431.9,284.1Z"/><circle cx="432.6" cy="274.3" r="3.56"/></g>
<g fill="#5b8ba8"><path d="M801.1,274.3 L802.9,274.3 L802.7,284.1 L802,286.7 L801.3,284.1Z"/><circle cx="802" cy="274.3" r="3.56"/></g>
<g fill="#6a3a60"><path d="M437.4,275.4 L439.2,275.4 L439,285.2 L438.3,287.8 L437.6,285.2Z"/><circle cx="438.3" cy="275.4" r="3.56"/></g>
<g fill="#6a3a60"><path d="M798.6,275.4 L800.4,275.4 L800.2,285.2 L799.5,287.8 L798.8,285.2Z"/><circle cx="799.5" cy="275.4" r="3.56"/></g>
<g fill="#d68d62"><path d="M416.3,275.9 L418.1,275.9 L417.9,285.7 L417.2,288.3 L416.5,285.7Z"/><circle cx="417.2" cy="275.9" r="3.56"/></g>
<g fill="#5b8ba8"><path d="M861.9,275.9 L863.7,275.9 L863.5,285.7 L862.8,288.3 L862.1,285.7Z"/><circle cx="862.8" cy="275.9" r="3.56"/></g>
<g fill="#d68d62"><path d="M771.6,277.3 L773.4,277.3 L773.2,287.1 L772.5,289.7 L771.8,287.1Z"/><circle cx="772.5" cy="277.3" r="3.56"/></g>
<g fill="#d68d62"><path d="M599.9,277.6 L601.7,277.6 L601.5,287.4 L600.8,290 L600.1,287.4Z"/><circle cx="600.8" cy="277.6" r="3.56"/></g>
<g fill="#d68d62"><path d="M481.1,278.1 L482.9,278.1 L482.7,287.9 L482,290.5 L481.3,287.9Z"/><circle cx="482" cy="278.1" r="3.56"/></g>
<g fill="#d68d62"><path d="M826.4,278.9 L828.2,278.9 L828,288.7 L827.3,291.3 L826.6,288.7Z"/><circle cx="827.3" cy="278.9" r="3.56"/></g>
<g fill="#6a3a60"><path d="M482.7,279.2 L484.5,279.2 L484.3,289 L483.6,291.6 L482.9,289Z"/><circle cx="483.6" cy="279.2" r="3.56"/></g>
<g fill="#5b8ba8"><path d="M479.4,279.6 L481.2,279.6 L481,289.4 L480.3,292 L479.6,289.4Z"/><circle cx="480.3" cy="279.6" r="3.56"/></g>
<g fill="#5b8ba8"><path d="M748.3,279.6 L750.1,279.6 L749.9,289.4 L749.2,292 L748.5,289.4Z"/><circle cx="749.2" cy="279.6" r="3.56"/></g>
<g fill="#d68d62"><path d="M485.2,280.1 L487,280.1 L486.8,289.9 L486.1,292.5 L485.4,289.9Z"/><circle cx="486.1" cy="280.1" r="3.56"/></g>
<g fill="#5b8ba8"><path d="M568.7,280.4 L570.5,280.4 L570.3,290.2 L569.6,292.8 L568.9,290.2Z"/><circle cx="569.6" cy="280.4" r="3.56"/></g>
<g fill="#5b8ba8"><path d="M771.7,280.9 L773.5,280.9 L773.3,290.7 L772.6,293.3 L771.9,290.7Z"/><circle cx="772.6" cy="280.9" r="3.56"/></g>
<g fill="#5b8ba8"><path d="M763.8,281.7 L765.6,281.7 L765.4,291.5 L764.7,294.1 L764,291.5Z"/><circle cx="764.7" cy="281.7" r="3.56"/></g>
<g fill="#d68d62"><path d="M659.4,282.6 L661.2,282.6 L661,292.4 L660.3,295 L659.6,292.4Z"/><circle cx="660.3" cy="282.6" r="3.56"/></g>
<g fill="#d68d62"><path d="M422.1,283.4 L423.9,283.4 L423.7,293.2 L423,295.8 L422.3,293.2Z"/><circle cx="423" cy="283.4" r="3.56"/></g>
<g fill="#d68d62"><path d="M653.6,283.4 L655.4,283.4 L655.2,293.2 L654.5,295.8 L653.8,293.2Z"/><circle cx="654.5" cy="283.4" r="3.56"/></g>
<g fill="#d68d62"><path d="M425.1,284.3 L426.9,284.3 L426.7,294.1 L426,296.7 L425.3,294.1Z"/><circle cx="426" cy="284.3" r="3.56"/></g>
<g fill="#d68d62"><path d="M657.1,284.9 L658.9,284.9 L658.7,294.7 L658,297.3 L657.3,294.7Z"/><circle cx="658" cy="284.9" r="3.56"/></g>
<g fill="#6a3a60"><path d="M657.7,285.1 L659.5,285.1 L659.3,294.9 L658.6,297.5 L657.9,294.9Z"/><circle cx="658.6" cy="285.1" r="3.56"/></g>
<g fill="#6a3a60"><path d="M429.1,285.9 L430.9,285.9 L430.7,295.7 L430,298.3 L429.3,295.7Z"/><circle cx="430" cy="285.9" r="3.56"/></g>
<g fill="#5b8ba8"><path d="M847.6,286.7 L849.4,286.7 L849.2,296.5 L848.5,299.1 L847.8,296.5Z"/><circle cx="848.5" cy="286.7" r="3.56"/></g>
<g fill="#5b8ba8"><path d="M850.6,288.3 L852.4,288.3 L852.2,298.1 L851.5,300.7 L850.8,298.1Z"/><circle cx="851.5" cy="288.3" r="3.56"/></g>
<g fill="#6a3a60"><path d="M650.7,288.9 L652.5,288.9 L652.3,298.7 L651.6,301.3 L650.9,298.7Z"/><circle cx="651.6" cy="288.9" r="3.56"/></g>
<g fill="#d68d62"><path d="M659.4,289.2 L661.2,289.2 L661,299 L660.3,301.6 L659.6,299Z"/><circle cx="660.3" cy="289.2" r="3.56"/></g>
<g fill="#d68d62"><path d="M652.3,289.5 L654.1,289.5 L653.9,299.3 L653.2,301.9 L652.5,299.3Z"/><circle cx="653.2" cy="289.5" r="3.56"/></g>
<g fill="#d68d62"><path d="M425.4,290 L427.2,290 L427,299.8 L426.3,302.4 L425.6,299.8Z"/><circle cx="426.3" cy="290" r="3.56"/></g>
<g fill="#d68d62"><path d="M655.2,290 L657,290 L656.8,299.8 L656.1,302.4 L655.4,299.8Z"/><circle cx="656.1" cy="290" r="3.56"/></g>
<g fill="#5b8ba8"><path d="M787.4,291.7 L789.2,291.7 L789,301.5 L788.3,304.1 L787.6,301.5Z"/><circle cx="788.3" cy="291.7" r="3.56"/></g>
<g fill="#d68d62"><path d="M692.4,291.7 L694.2,291.7 L694,301.5 L693.3,304.1 L692.6,301.5Z"/><circle cx="693.3" cy="291.7" r="3.56"/></g>
<g fill="#5b8ba8"><path d="M710.6,292.5 L712.4,292.5 L712.2,302.3 L711.5,304.9 L710.8,302.3Z"/><circle cx="711.5" cy="292.5" r="3.56"/></g>
<g fill="#5b8ba8"><path d="M792.3,293.4 L794.1,293.4 L793.9,303.2 L793.2,305.8 L792.5,303.2Z"/><circle cx="793.2" cy="293.4" r="3.56"/></g>
<g fill="#5b8ba8"><path d="M543.1,294.5 L544.9,294.5 L544.7,304.3 L544,306.9 L543.3,304.3Z"/><circle cx="544" cy="294.5" r="3.56"/></g>
<g fill="#d68d62"><path d="M732.6,295 L734.4,295 L734.2,304.8 L733.5,307.4 L732.8,304.8Z"/><circle cx="733.5" cy="295" r="3.56"/></g>
<g fill="#6a3a60"><path d="M495.7,295.8 L497.5,295.8 L497.3,305.6 L496.6,308.2 L495.9,305.6Z"/><circle cx="496.6" cy="295.8" r="3.56"/></g>
<g fill="#d68d62"><path d="M778.2,296.3 L780,296.3 L779.8,306.1 L779.1,308.7 L778.4,306.1Z"/><circle cx="779.1" cy="296.3" r="3.56"/></g>
<g fill="#d68d62"><path d="M836.8,297.5 L838.6,297.5 L838.4,307.3 L837.7,309.9 L837,307.3Z"/><circle cx="837.7" cy="297.5" r="3.56"/></g>
<g fill="#6a3a60"><path d="M549.4,302.3 L551.2,302.3 L551,312.1 L550.3,314.7 L549.6,312.1Z"/><circle cx="550.3" cy="302.3" r="3.56"/></g>
<g fill="#d68d62"><path d="M653.2,305.3 L655,305.3 L654.8,315.1 L654.1,317.7 L653.4,315.1Z"/><circle cx="654.1" cy="305.3" r="3.56"/></g>
<g fill="#6a3a60"><path d="M673,308 L674.8,308 L674.6,317.8 L673.9,320.4 L673.2,317.8Z"/><circle cx="673.9" cy="308" r="3.56"/></g>
<g fill="#5b8ba8"><path d="M707,308 L708.8,308 L708.6,317.8 L707.9,320.4 L707.2,317.8Z"/><circle cx="707.9" cy="308" r="3.56"/></g>
<g fill="#5b8ba8"><path d="M743.4,308 L745.2,308 L745,317.8 L744.3,320.4 L743.6,317.8Z"/><circle cx="744.3" cy="308" r="3.56"/></g>
<g fill="#d68d62"><path d="M646.9,311.1 L648.7,311.1 L648.5,320.9 L647.8,323.5 L647.1,320.9Z"/><circle cx="647.8" cy="311.1" r="3.56"/></g>
<g fill="#d68d62"><path d="M755.5,317.1 L757.3,317.1 L757.1,326.9 L756.4,329.5 L755.7,326.9Z"/><circle cx="756.4" cy="317.1" r="3.56"/></g>
<g fill="#5b8ba8"><path d="M663.2,317.9 L665,317.9 L664.8,327.7 L664.1,330.3 L663.4,327.7Z"/><circle cx="664.1" cy="317.9" r="3.56"/></g>
<g fill="#5b8ba8"><path d="M647.7,318.8 L649.5,318.8 L649.3,328.6 L648.6,331.2 L647.9,328.6Z"/><circle cx="648.6" cy="318.8" r="3.56"/></g>
<g fill="#d68d62"><path d="M721.4,319.9 L723.2,319.9 L723,329.7 L722.3,332.3 L721.6,329.7Z"/><circle cx="722.3" cy="319.9" r="3.56"/></g>
<g fill="#d68d62"><path d="M800,319.9 L801.8,319.9 L801.6,329.7 L800.9,332.3 L800.2,329.7Z"/><circle cx="800.9" cy="319.9" r="3.56"/></g>
<g fill="#5b8ba8"><path d="M748.5,320.3 L750.3,320.3 L750.1,330.1 L749.4,332.7 L748.7,330.1Z"/><circle cx="749.4" cy="320.3" r="3.56"/></g>
<g fill="#5b8ba8"><path d="M745.5,321.1 L747.3,321.1 L747.1,330.9 L746.4,333.5 L745.7,330.9Z"/><circle cx="746.4" cy="321.1" r="3.56"/></g>
<g fill="#6a3a60"><path d="M829.9,321.3 L831.7,321.3 L831.5,331.1 L830.8,333.7 L830.1,331.1Z"/><circle cx="830.8" cy="321.3" r="3.56"/></g>
<g fill="#5b8ba8"><path d="M742.2,321.6 L744,321.6 L743.8,331.4 L743.1,334 L742.4,331.4Z"/><circle cx="743.1" cy="321.6" r="3.56"/></g>
<g fill="#5b8ba8"><path d="M697.9,322.9 L699.7,322.9 L699.5,332.7 L698.8,335.3 L698.1,332.7Z"/><circle cx="698.8" cy="322.9" r="3.56"/></g>
<g fill="#d68d62"><path d="M712,322.9 L713.8,322.9 L713.6,332.7 L712.9,335.3 L712.2,332.7Z"/><circle cx="712.9" cy="322.9" r="3.56"/></g>
<g fill="#d68d62"><path d="M732.3,324.6 L734.1,324.6 L733.9,334.4 L733.2,337 L732.5,334.4Z"/><circle cx="733.2" cy="324.6" r="3.56"/></g>
<g fill="#6a3a60"><path d="M733.9,326.2 L735.7,326.2 L735.5,336 L734.8,338.6 L734.1,336Z"/><circle cx="734.8" cy="326.2" r="3.56"/></g>
<g fill="#6a3a60"><path d="M663.7,327.1 L665.5,327.1 L665.3,336.9 L664.6,339.5 L663.9,336.9Z"/><circle cx="664.6" cy="327.1" r="3.56"/></g>
<g fill="#d68d62"><path d="M675.1,330.2 L676.9,330.2 L676.7,340 L676,342.6 L675.3,340Z"/><circle cx="676" cy="330.2" r="3.56"/></g>
<g fill="#d68d62"><path d="M822.7,330.2 L824.5,330.2 L824.3,340 L823.6,342.6 L822.9,340Z"/><circle cx="823.6" cy="330.2" r="3.56"/></g>
<g fill="#6a3a60"><path d="M637.4,333.5 L639.2,333.5 L639,343.3 L638.3,345.9 L637.6,343.3Z"/><circle cx="638.3" cy="333.5" r="3.56"/></g>
<g fill="#5b8ba8"><path d="M837.7,335.7 L839.5,335.7 L839.3,345.5 L838.6,348.1 L837.9,345.5Z"/><circle cx="838.6" cy="335.7" r="3.56"/></g>
<g fill="#5b8ba8"><path d="M511.6,336.2 L513.4,336.2 L513.2,346 L512.5,348.6 L511.8,346Z"/><circle cx="512.5" cy="336.2" r="3.56"/></g>
<g fill="#6a3a60"><path d="M833.2,344.5 L835,344.5 L834.8,354.3 L834.1,356.9 L833.4,354.3Z"/><circle cx="834.1" cy="344.5" r="3.56"/></g>
<g fill="#6a3a60"><path d="M531.2,346.5 L533,346.5 L532.8,356.3 L532.1,358.9 L531.4,356.3Z"/><circle cx="532.1" cy="346.5" r="3.56"/></g>
<g fill="#5b8ba8"><path d="M541.1,347.8 L542.9,347.8 L542.7,357.6 L542,360.2 L541.3,357.6Z"/><circle cx="542" cy="347.8" r="3.56"/></g>
<g fill="#d68d62"><path d="M548.9,352.8 L550.7,352.8 L550.5,362.6 L549.8,365.2 L549.1,362.6Z"/><circle cx="549.8" cy="352.8" r="3.56"/></g>
<g fill="#6a3a60"><path d="M821.6,352.8 L823.4,352.8 L823.2,362.6 L822.5,365.2 L821.8,362.6Z"/><circle cx="822.5" cy="352.8" r="3.56"/></g>
<g fill="#6a3a60"><path d="M650.4,354 L652.2,354 L652,363.8 L651.3,366.4 L650.6,363.8Z"/><circle cx="651.3" cy="354" r="3.56"/></g>
<g fill="#d68d62"><path d="M818.2,354.8 L820,354.8 L819.8,364.6 L819.1,367.2 L818.4,364.6Z"/><circle cx="819.1" cy="354.8" r="3.56"/></g>
<g fill="#d68d62"><path d="M626.2,357.8 L628,357.8 L627.8,367.6 L627.1,370.2 L626.4,367.6Z"/><circle cx="627.1" cy="357.8" r="3.56"/></g>
<g fill="#d68d62"><path d="M844.6,361.4 L846.4,361.4 L846.2,371.2 L845.5,373.8 L844.8,371.2Z"/><circle cx="845.5" cy="361.4" r="3.56"/></g>
<g fill="#d68d62"><path d="M557.4,368.2 L559.2,368.2 L559,378 L558.3,380.6 L557.6,378Z"/><circle cx="558.3" cy="368.2" r="3.56"/></g>
<g fill="#5b8ba8"><path d="M434.6,369.7 L436.4,369.7 L436.2,379.5 L435.5,382.1 L434.8,379.5Z"/><circle cx="435.5" cy="369.7" r="3.56"/></g>
<g fill="#d68d62"><path d="M826.4,369.7 L828.2,369.7 L828,379.5 L827.3,382.1 L826.6,379.5Z"/><circle cx="827.3" cy="369.7" r="3.56"/></g>
<g fill="#d68d62"><path d="M641.1,374.7 L642.9,374.7 L642.7,384.5 L642,387.1 L641.3,384.5Z"/><circle cx="642" cy="374.7" r="3.56"/></g>
<g fill="#5b8ba8"><path d="M847.9,374.9 L849.7,374.9 L849.5,384.7 L848.8,387.3 L848.1,384.7Z"/><circle cx="848.8" cy="374.9" r="3.56"/></g>
<g fill="#d68d62"><path d="M846,377.2 L847.8,377.2 L847.6,387 L846.9,389.6 L846.2,387Z"/><circle cx="846.9" cy="377.2" r="3.56"/></g>
<g fill="#d68d62"><path d="M649.4,378.4 L651.2,378.4 L651,388.2 L650.3,390.8 L649.6,388.2Z"/><circle cx="650.3" cy="378.4" r="3.56"/></g>
<g fill="#6a3a60"><path d="M847.6,379.4 L849.4,379.4 L849.2,389.2 L848.5,391.8 L847.8,389.2Z"/><circle cx="848.5" cy="379.4" r="3.56"/></g>
<g fill="#5b8ba8"><path d="M846.8,381.4 L848.6,381.4 L848.4,391.2 L847.7,393.8 L847,391.2Z"/><circle cx="847.7" cy="381.4" r="3.56"/></g>
<g fill="#5b8ba8"><path d="M428.8,390.3 L430.6,390.3 L430.4,400.1 L429.7,402.7 L429,400.1Z"/><circle cx="429.7" cy="390.3" r="3.56"/></g>
<g fill="#6a3a60"><path d="M430.4,392.5 L432.2,392.5 L432,402.3 L431.3,404.9 L430.6,402.3Z"/><circle cx="431.3" cy="392.5" r="3.56"/></g>
<g fill="#5b8ba8"><path d="M422,402.1 L423.8,402.1 L423.6,411.9 L422.9,414.5 L422.2,411.9Z"/><circle cx="422.9" cy="402.1" r="3.56"/></g>
<g fill="#5b8ba8"><path d="M480.7,410.9 L482.5,410.9 L482.3,420.7 L481.6,423.3 L480.9,420.7Z"/><circle cx="481.6" cy="410.9" r="3.56"/></g>
<g fill="#5b8ba8"><path d="M477.4,416.5 L479.2,416.5 L479,426.3 L478.3,428.9 L477.6,426.3Z"/><circle cx="478.3" cy="416.5" r="3.56"/></g>
<g fill="#5b8ba8"><path d="M489.9,429.3 L491.7,429.3 L491.5,439.1 L490.8,441.7 L490.1,439.1Z"/><circle cx="490.8" cy="429.3" r="3.56"/></g>
</svg>
</body></html>
